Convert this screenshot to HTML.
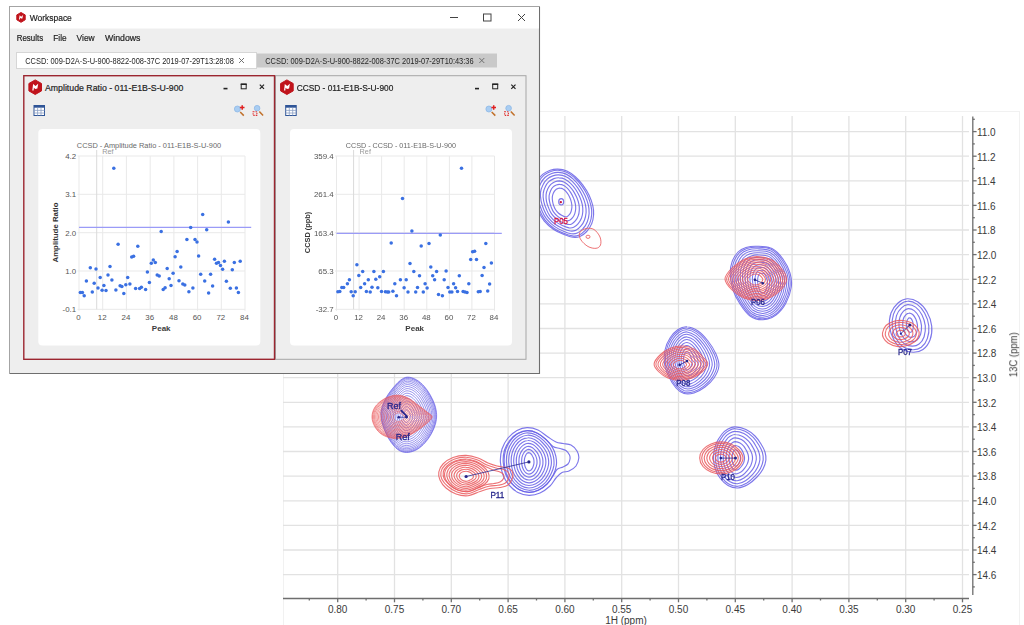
<!DOCTYPE html>
<html><head><meta charset="utf-8"><title>Workspace</title>
<style>
html,body{margin:0;padding:0;background:#fff;}
body{width:1024px;height:625px;overflow:hidden;font-family:"Liberation Sans",sans-serif;}
svg{display:block;position:absolute;left:0;top:0;font-family:"Liberation Sans",sans-serif;filter:blur(0.45px);}
</style></head><body>
<svg width="1024" height="625" viewBox="0 0 1024 625">
<g id="nmr">
<rect x="283.5" y="111.5" width="736" height="520" fill="#fff" stroke="#f1f1f1" stroke-width="1"/>
<g stroke="#e2e2e2" stroke-width="1.3"><line x1="337.7" y1="116" x2="337.7" y2="598" /><line x1="394.5" y1="116" x2="394.5" y2="598" /><line x1="451.3" y1="116" x2="451.3" y2="598" /><line x1="508.1" y1="116" x2="508.1" y2="598" /><line x1="564.9" y1="116" x2="564.9" y2="598" /><line x1="621.7" y1="116" x2="621.7" y2="598" /><line x1="678.5" y1="116" x2="678.5" y2="598" /><line x1="735.3" y1="116" x2="735.3" y2="598" /><line x1="792.1" y1="116" x2="792.1" y2="598" /><line x1="848.9" y1="116" x2="848.9" y2="598" /><line x1="905.7" y1="116" x2="905.7" y2="598" /><line x1="962.5" y1="116" x2="962.5" y2="598" /><line x1="283" y1="131.6" x2="969" y2="131.6" /><line x1="283" y1="156.2" x2="969" y2="156.2" /><line x1="283" y1="180.8" x2="969" y2="180.8" /><line x1="283" y1="205.4" x2="969" y2="205.4" /><line x1="283" y1="230.0" x2="969" y2="230.0" /><line x1="283" y1="254.6" x2="969" y2="254.6" /><line x1="283" y1="279.3" x2="969" y2="279.3" /><line x1="283" y1="303.9" x2="969" y2="303.9" /><line x1="283" y1="328.5" x2="969" y2="328.5" /><line x1="283" y1="353.1" x2="969" y2="353.1" /><line x1="283" y1="377.7" x2="969" y2="377.7" /><line x1="283" y1="402.3" x2="969" y2="402.3" /><line x1="283" y1="426.9" x2="969" y2="426.9" /><line x1="283" y1="451.5" x2="969" y2="451.5" /><line x1="283" y1="476.1" x2="969" y2="476.1" /><line x1="283" y1="500.8" x2="969" y2="500.8" /><line x1="283" y1="525.4" x2="969" y2="525.4" /><line x1="283" y1="550.0" x2="969" y2="550.0" /><line x1="283" y1="574.6" x2="969" y2="574.6" /></g>
<g stroke="#6e6e6e" stroke-width="1.3"><line x1="972.8" y1="116.5" x2="972.8" y2="595" /><line x1="283" y1="598.5" x2="969" y2="598.5" /><line x1="972.8" y1="119.3" x2="974.8" y2="119.3" /><line x1="972.8" y1="131.6" x2="976.6" y2="131.6" /><line x1="972.8" y1="143.9" x2="974.8" y2="143.9" /><line x1="972.8" y1="156.2" x2="976.6" y2="156.2" /><line x1="972.8" y1="168.5" x2="974.8" y2="168.5" /><line x1="972.8" y1="180.8" x2="976.6" y2="180.8" /><line x1="972.8" y1="193.1" x2="974.8" y2="193.1" /><line x1="972.8" y1="205.4" x2="976.6" y2="205.4" /><line x1="972.8" y1="217.7" x2="974.8" y2="217.7" /><line x1="972.8" y1="230.0" x2="976.6" y2="230.0" /><line x1="972.8" y1="242.3" x2="974.8" y2="242.3" /><line x1="972.8" y1="254.6" x2="976.6" y2="254.6" /><line x1="972.8" y1="267.0" x2="974.8" y2="267.0" /><line x1="972.8" y1="279.3" x2="976.6" y2="279.3" /><line x1="972.8" y1="291.6" x2="974.8" y2="291.6" /><line x1="972.8" y1="303.9" x2="976.6" y2="303.9" /><line x1="972.8" y1="316.2" x2="974.8" y2="316.2" /><line x1="972.8" y1="328.5" x2="976.6" y2="328.5" /><line x1="972.8" y1="340.8" x2="974.8" y2="340.8" /><line x1="972.8" y1="353.1" x2="976.6" y2="353.1" /><line x1="972.8" y1="365.4" x2="974.8" y2="365.4" /><line x1="972.8" y1="377.7" x2="976.6" y2="377.7" /><line x1="972.8" y1="390.0" x2="974.8" y2="390.0" /><line x1="972.8" y1="402.3" x2="976.6" y2="402.3" /><line x1="972.8" y1="414.6" x2="974.8" y2="414.6" /><line x1="972.8" y1="426.9" x2="976.6" y2="426.9" /><line x1="972.8" y1="439.2" x2="974.8" y2="439.2" /><line x1="972.8" y1="451.5" x2="976.6" y2="451.5" /><line x1="972.8" y1="463.8" x2="974.8" y2="463.8" /><line x1="972.8" y1="476.1" x2="976.6" y2="476.1" /><line x1="972.8" y1="488.4" x2="974.8" y2="488.4" /><line x1="972.8" y1="500.8" x2="976.6" y2="500.8" /><line x1="972.8" y1="513.1" x2="974.8" y2="513.1" /><line x1="972.8" y1="525.4" x2="976.6" y2="525.4" /><line x1="972.8" y1="537.7" x2="974.8" y2="537.7" /><line x1="972.8" y1="550.0" x2="976.6" y2="550.0" /><line x1="972.8" y1="562.3" x2="974.8" y2="562.3" /><line x1="972.8" y1="574.6" x2="976.6" y2="574.6" /><line x1="972.8" y1="586.9" x2="974.8" y2="586.9" /><line x1="309.3" y1="598.5" x2="309.3" y2="600.5" /><line x1="337.7" y1="598.5" x2="337.7" y2="602.3" /><line x1="366.1" y1="598.5" x2="366.1" y2="600.5" /><line x1="394.5" y1="598.5" x2="394.5" y2="602.3" /><line x1="422.9" y1="598.5" x2="422.9" y2="600.5" /><line x1="451.3" y1="598.5" x2="451.3" y2="602.3" /><line x1="479.7" y1="598.5" x2="479.7" y2="600.5" /><line x1="508.1" y1="598.5" x2="508.1" y2="602.3" /><line x1="536.5" y1="598.5" x2="536.5" y2="600.5" /><line x1="564.9" y1="598.5" x2="564.9" y2="602.3" /><line x1="593.3" y1="598.5" x2="593.3" y2="600.5" /><line x1="621.7" y1="598.5" x2="621.7" y2="602.3" /><line x1="650.1" y1="598.5" x2="650.1" y2="600.5" /><line x1="678.5" y1="598.5" x2="678.5" y2="602.3" /><line x1="706.9" y1="598.5" x2="706.9" y2="600.5" /><line x1="735.3" y1="598.5" x2="735.3" y2="602.3" /><line x1="763.7" y1="598.5" x2="763.7" y2="600.5" /><line x1="792.1" y1="598.5" x2="792.1" y2="602.3" /><line x1="820.5" y1="598.5" x2="820.5" y2="600.5" /><line x1="848.9" y1="598.5" x2="848.9" y2="602.3" /><line x1="877.3" y1="598.5" x2="877.3" y2="600.5" /><line x1="905.7" y1="598.5" x2="905.7" y2="602.3" /><line x1="934.1" y1="598.5" x2="934.1" y2="600.5" /><line x1="962.5" y1="598.5" x2="962.5" y2="602.3" /></g>
<g font-size="10" fill="#3a3a3a"><text x="976.9" y="135.9">11.0</text><text x="976.9" y="160.5">11.2</text><text x="976.9" y="185.1">11.4</text><text x="976.9" y="209.7">11.6</text><text x="976.9" y="234.3">11.8</text><text x="976.9" y="258.9">12.0</text><text x="976.9" y="283.6">12.2</text><text x="976.9" y="308.2">12.4</text><text x="976.9" y="332.8">12.6</text><text x="976.9" y="357.4">12.8</text><text x="976.9" y="382.0">13.0</text><text x="976.9" y="406.6">13.2</text><text x="976.9" y="431.2">13.4</text><text x="976.9" y="455.8">13.6</text><text x="976.9" y="480.4">13.8</text><text x="976.9" y="505.1">14.0</text><text x="976.9" y="529.7">14.2</text><text x="976.9" y="554.3">14.4</text><text x="976.9" y="578.9">14.6</text><text x="337.7" y="613.3" text-anchor="middle">0.80</text><text x="394.5" y="613.3" text-anchor="middle">0.75</text><text x="451.3" y="613.3" text-anchor="middle">0.70</text><text x="508.1" y="613.3" text-anchor="middle">0.65</text><text x="564.9" y="613.3" text-anchor="middle">0.60</text><text x="621.7" y="613.3" text-anchor="middle">0.55</text><text x="678.5" y="613.3" text-anchor="middle">0.50</text><text x="735.3" y="613.3" text-anchor="middle">0.45</text><text x="792.1" y="613.3" text-anchor="middle">0.40</text><text x="848.9" y="613.3" text-anchor="middle">0.35</text><text x="905.7" y="613.3" text-anchor="middle">0.30</text><text x="962.5" y="613.3" text-anchor="middle">0.25</text><text x="626" y="624.3" text-anchor="middle">1H (ppm)</text><text transform="translate(1017.2,377.2) rotate(-90)" textLength="44.8" lengthAdjust="spacingAndGlyphs">13C (ppm)</text></g>
<g fill="none" stroke="#665fe6" stroke-width="1.15" stroke-opacity="0.85"><path d="M560.1,188.1C561.0,188.1 562.1,188.3 563.1,188.9C564.0,189.4 565.0,190.3 565.9,191.3C566.7,192.2 567.6,193.5 568.4,194.8C569.1,196.1 569.8,197.5 570.4,198.9C570.9,200.4 571.4,202.0 571.6,203.4C571.9,204.8 572.0,206.0 571.9,207.3C571.8,208.5 571.6,209.9 571.2,211.1C570.9,212.3 570.3,213.4 569.6,214.3C569.0,215.2 568.1,216.0 567.4,216.4C566.6,216.8 566.0,216.9 565.1,216.7C564.2,216.6 563.2,216.1 562.1,215.5C561.0,215.0 559.7,214.3 558.6,213.3C557.5,212.3 556.4,211.0 555.6,209.8C554.8,208.6 554.3,207.3 553.8,206.0C553.3,204.6 552.8,203.0 552.6,201.5C552.3,200.0 552.2,198.4 552.3,197.0C552.4,195.6 552.9,194.3 553.3,193.2C553.8,192.1 554.4,191.1 555.1,190.3C555.8,189.5 556.7,188.9 557.6,188.6C558.4,188.2 559.2,188.0 560.1,188.1Z"/><path d="M559.7,184.4C560.9,184.4 562.4,184.7 563.8,185.4C565.1,186.1 566.3,187.2 567.5,188.4C568.7,189.7 569.9,191.3 570.9,192.9C571.9,194.5 572.9,196.4 573.6,198.2C574.4,200.0 575.0,202.1 575.3,203.8C575.7,205.6 575.8,207.1 575.7,208.7C575.6,210.3 575.3,212.1 574.8,213.6C574.3,215.1 573.5,216.5 572.6,217.6C571.7,218.7 570.6,219.8 569.6,220.3C568.5,220.8 567.7,220.9 566.5,220.7C565.3,220.5 563.9,219.9 562.4,219.2C560.9,218.5 559.1,217.6 557.7,216.4C556.2,215.2 554.6,213.5 553.5,211.9C552.5,210.4 551.9,208.8 551.2,207.1C550.5,205.3 549.8,203.3 549.5,201.4C549.1,199.5 548.9,197.5 549.1,195.7C549.3,194.0 549.9,192.3 550.5,190.9C551.1,189.5 551.9,188.2 552.9,187.2C553.8,186.2 555.1,185.5 556.3,185.0C557.4,184.6 558.4,184.3 559.7,184.4Z"/><path d="M559.3,180.9C560.9,181.0 562.8,181.3 564.4,182.2C566.0,183.0 567.6,184.3 569.1,185.8C570.6,187.3 572.1,189.2 573.4,191.1C574.6,193.1 575.8,195.3 576.8,197.5C577.7,199.6 578.5,202.1 578.9,204.2C579.3,206.3 579.5,208.1 579.3,210.1C579.2,212.0 578.9,214.1 578.2,215.9C577.6,217.7 576.6,219.4 575.5,220.7C574.4,222.1 573.0,223.3 571.7,223.9C570.4,224.6 569.3,224.7 567.8,224.4C566.3,224.2 564.6,223.5 562.7,222.7C560.9,221.8 558.6,220.7 556.8,219.3C554.9,217.8 553.0,215.8 551.6,213.9C550.3,212.1 549.5,210.2 548.7,208.1C547.8,206.0 547.0,203.6 546.5,201.3C546.1,199.0 545.9,196.6 546.1,194.5C546.3,192.4 547.0,190.4 547.8,188.7C548.6,187.0 549.6,185.5 550.8,184.3C552.0,183.2 553.6,182.3 555.0,181.7C556.5,181.1 557.7,180.9 559.3,180.9Z"/><path d="M558.9,177.8C560.8,177.8 563.1,178.2 565.0,179.2C566.9,180.1 568.8,181.6 570.6,183.4C572.4,185.1 574.2,187.3 575.7,189.5C577.2,191.8 578.6,194.3 579.7,196.8C580.8,199.3 581.8,202.2 582.3,204.6C582.8,207.0 582.9,209.1 582.8,211.4C582.7,213.6 582.2,216.0 581.5,218.0C580.7,220.1 579.5,222.1 578.2,223.6C576.9,225.2 575.2,226.6 573.7,227.3C572.2,228.0 570.9,228.1 569.1,227.9C567.3,227.6 565.2,226.8 563.0,225.8C560.8,224.8 558.1,223.6 555.9,221.9C553.7,220.3 551.4,217.9 549.8,215.8C548.2,213.6 547.3,211.5 546.3,209.1C545.2,206.7 544.2,203.8 543.7,201.2C543.2,198.6 542.9,195.8 543.2,193.4C543.4,191.0 544.3,188.7 545.3,186.7C546.2,184.8 547.4,183.0 548.8,181.7C550.2,180.3 552.2,179.3 553.9,178.6C555.6,178.0 557.1,177.7 558.9,177.8Z"/><path d="M558.6,174.9C560.7,175.0 563.3,175.4 565.6,176.5C567.8,177.5 570.0,179.2 572.0,181.1C574.1,183.1 576.1,185.5 577.9,188.1C579.6,190.6 581.3,193.4 582.5,196.2C583.8,199.0 584.9,202.2 585.5,204.9C586.0,207.6 586.2,210.0 586.1,212.5C585.9,215.0 585.4,217.7 584.5,220.0C583.7,222.3 582.3,224.5 580.8,226.2C579.3,228.0 577.3,229.6 575.6,230.4C573.8,231.1 572.3,231.3 570.3,231.0C568.2,230.7 565.8,229.8 563.3,228.7C560.8,227.6 557.7,226.2 555.1,224.3C552.6,222.5 549.9,219.8 548.1,217.4C546.2,215.0 545.2,212.7 544.0,209.9C542.8,207.2 541.7,204.1 541.1,201.1C540.5,198.2 540.2,195.1 540.5,192.4C540.8,189.7 541.8,187.1 542.9,184.9C543.9,182.7 545.3,180.8 546.9,179.3C548.6,177.7 550.8,176.6 552.8,175.9C554.7,175.2 556.5,174.8 558.6,174.9Z"/><path d="M558.3,172.4C560.7,172.5 563.6,173.0 566.1,174.1C568.6,175.2 571.0,177.1 573.3,179.2C575.6,181.3 577.9,184.0 579.9,186.8C581.8,189.5 583.7,192.6 585.1,195.7C586.5,198.8 587.7,202.2 588.4,205.2C589.0,208.2 589.2,210.8 589.1,213.5C588.9,216.2 588.3,219.2 587.3,221.7C586.4,224.2 584.8,226.6 583.1,228.5C581.5,230.4 579.2,232.1 577.3,233.0C575.3,233.9 573.6,234.0 571.3,233.7C569.1,233.4 566.3,232.4 563.5,231.2C560.7,230.0 557.2,228.5 554.4,226.4C551.6,224.4 548.6,221.5 546.5,218.9C544.4,216.3 543.2,213.7 541.9,210.7C540.6,207.7 539.3,204.3 538.7,201.1C538.0,197.9 537.6,194.5 538.0,191.5C538.3,188.6 539.4,185.8 540.6,183.4C541.8,181.0 543.4,178.8 545.2,177.2C547.1,175.5 549.6,174.3 551.7,173.5C553.9,172.7 555.9,172.3 558.3,172.4Z"/><path d="M558.0,170.3C560.6,170.5 563.8,171.0 566.6,172.2C569.3,173.4 572.0,175.4 574.5,177.7C577.0,179.9 579.5,182.8 581.6,185.7C583.8,188.7 585.8,192.0 587.4,195.3C588.9,198.5 590.2,202.3 590.9,205.5C591.7,208.6 591.9,211.4 591.7,214.3C591.5,217.2 590.9,220.4 589.8,223.1C588.7,225.7 587.0,228.3 585.2,230.4C583.4,232.4 580.9,234.2 578.8,235.2C576.7,236.1 574.8,236.3 572.3,235.9C569.8,235.6 566.8,234.6 563.7,233.3C560.7,232.0 556.9,230.4 553.8,228.2C550.7,226.0 547.4,222.9 545.1,220.1C542.8,217.3 541.5,214.5 540.1,211.3C538.7,208.1 537.3,204.4 536.5,201.0C535.8,197.6 535.4,194.0 535.8,190.8C536.1,187.7 537.4,184.6 538.7,182.1C540.0,179.5 541.7,177.2 543.7,175.4C545.7,173.7 548.5,172.3 550.8,171.5C553.2,170.6 555.4,170.2 558.0,170.3Z"/><path d="M557.8,169.1C560.6,169.2 564.0,169.7 566.9,171.0C569.8,172.3 572.6,174.3 575.3,176.7C578.0,179.0 580.6,182.0 582.9,185.1C585.2,188.2 587.4,191.6 589.0,195.0C590.6,198.4 592.0,202.3 592.8,205.6C593.6,208.9 593.8,211.8 593.6,214.8C593.4,217.9 592.8,221.1 591.6,223.9C590.5,226.7 588.7,229.4 586.7,231.5C584.8,233.6 582.2,235.5 579.9,236.5C577.6,237.5 575.7,237.6 573.0,237.3C570.3,237.0 567.2,235.8 563.9,234.5C560.6,233.2 556.6,231.5 553.3,229.2C550.0,226.9 546.5,223.7 544.1,220.8C541.7,217.9 540.3,215.0 538.8,211.7C537.3,208.4 535.8,204.6 535.0,201.0C534.2,197.4 533.8,193.7 534.2,190.4C534.6,187.1 535.9,184.0 537.3,181.3C538.7,178.6 540.5,176.2 542.6,174.4C544.8,172.6 547.7,171.2 550.2,170.3C552.7,169.4 555.0,169.0 557.8,169.1Z"/><ellipse cx="561.2" cy="201.8" rx="2.5" ry="3.2"/></g><g fill="none" stroke="#ea5a5e" stroke-width="1" stroke-opacity="0.85"><path d="M586.0,228.5C588.4,227.9 591.7,228.1 594.0,229.5C596.3,230.9 598.9,234.4 600.0,237.0C601.1,239.6 601.2,243.1 600.5,245.0C599.8,246.9 598.1,248.1 596.0,248.3C593.9,248.6 590.5,247.9 588.0,246.5C585.5,245.1 582.4,242.2 581.0,240.0C579.6,237.8 578.7,234.9 579.5,233.0C580.3,231.1 583.6,229.1 586.0,228.5Z"/><ellipse cx="588" cy="236.8" rx="2" ry="1.6"/></g><g fill="none" stroke="#665fe6" stroke-width="1.05" stroke-opacity="0.85"><path d="M761.9,273.2C762.6,273.3 763.6,273.3 764.3,273.8C765.0,274.4 765.6,275.6 766.0,276.7C766.5,277.8 766.9,279.2 767.2,280.4C767.4,281.7 767.5,282.9 767.4,284.2C767.3,285.6 766.9,287.3 766.5,288.5C766.1,289.8 765.5,291.0 764.9,291.8C764.3,292.5 763.5,293.0 762.8,293.1C762.1,293.1 761.4,292.8 760.8,292.1C760.1,291.3 759.6,290.0 759.2,288.8C758.7,287.6 758.3,286.4 758.0,285.0C757.8,283.7 757.6,282.0 757.6,280.7C757.6,279.5 757.7,278.5 757.9,277.5C758.1,276.5 758.5,275.4 758.8,274.8C759.2,274.1 759.6,273.8 760.1,273.6C760.6,273.3 761.2,273.2 761.9,273.2Z"/><path d="M761.4,270.3C762.4,270.4 764.0,270.4 765.0,271.1C766.0,271.9 766.9,273.4 767.6,274.8C768.4,276.2 769.0,278.0 769.3,279.6C769.7,281.3 769.8,282.8 769.6,284.5C769.5,286.3 769.0,288.5 768.4,290.1C767.8,291.7 766.9,293.3 766.0,294.3C765.0,295.2 763.9,295.9 762.8,295.9C761.8,296.0 760.6,295.5 759.7,294.6C758.8,293.7 758.0,291.9 757.3,290.4C756.6,288.9 756.0,287.3 755.6,285.6C755.3,283.8 755.0,281.6 755.0,280.0C754.9,278.4 755.1,277.1 755.4,275.8C755.7,274.5 756.3,273.2 756.8,272.3C757.4,271.5 758.0,271.1 758.8,270.8C759.5,270.4 760.4,270.3 761.4,270.3Z"/><path d="M761.0,267.5C762.3,267.6 764.4,267.6 765.7,268.5C767.1,269.4 768.3,271.2 769.2,272.9C770.2,274.7 771.0,276.9 771.5,278.9C771.9,280.9 772.1,282.7 771.9,284.8C771.7,286.9 771.0,289.6 770.2,291.6C769.4,293.6 768.2,295.5 767.0,296.7C765.8,297.9 764.2,298.6 762.9,298.7C761.5,298.8 759.9,298.2 758.7,297.1C757.5,296.0 756.4,293.9 755.5,292.0C754.6,290.2 753.8,288.2 753.3,286.1C752.8,284.0 752.5,281.3 752.4,279.3C752.4,277.3 752.6,275.8 753.0,274.2C753.4,272.7 754.1,271.0 754.9,270.0C755.6,268.9 756.4,268.5 757.4,268.1C758.5,267.7 759.6,267.4 761.0,267.5Z"/><path d="M760.5,264.8C762.2,264.9 764.7,264.9 766.4,265.9C768.2,267.0 769.6,269.1 770.8,271.2C772.0,273.2 773.0,275.8 773.6,278.1C774.1,280.4 774.4,282.6 774.1,285.1C773.8,287.6 773.0,290.7 772.0,293.1C771.0,295.4 769.6,297.6 768.0,299.0C766.5,300.4 764.6,301.3 762.9,301.4C761.2,301.5 759.2,300.8 757.7,299.5C756.2,298.2 754.9,295.7 753.8,293.6C752.6,291.4 751.6,289.1 751.0,286.6C750.3,284.1 749.9,280.9 749.9,278.6C749.8,276.3 750.1,274.5 750.6,272.6C751.1,270.8 752.0,268.9 753.0,267.7C753.9,266.5 754.9,265.9 756.1,265.4C757.4,264.9 758.8,264.7 760.5,264.8Z"/><path d="M760.1,262.1C762.1,262.2 765.1,262.2 767.2,263.5C769.2,264.7 770.9,267.1 772.4,269.4C773.8,271.8 775.0,274.7 775.7,277.4C776.3,280.1 776.6,282.5 776.3,285.4C776.0,288.2 775.0,291.8 773.8,294.5C772.6,297.1 770.9,299.7 769.0,301.3C767.2,302.9 764.9,303.9 762.9,304.0C760.8,304.1 758.6,303.4 756.7,301.9C754.9,300.4 753.4,297.5 752.0,295.0C750.7,292.6 749.5,289.9 748.7,287.1C747.9,284.2 747.5,280.6 747.4,278.0C747.3,275.3 747.6,273.2 748.2,271.1C748.8,269.0 750.0,266.8 751.1,265.4C752.2,264.1 753.4,263.4 754.9,262.9C756.4,262.3 758.0,262.0 760.1,262.1Z"/><path d="M759.6,259.6C762.0,259.7 765.5,259.7 767.8,261.1C770.2,262.4 772.2,265.2 773.9,267.8C775.5,270.4 776.9,273.7 777.7,276.7C778.5,279.7 778.8,282.4 778.4,285.6C778.1,288.8 776.9,292.9 775.5,295.8C774.1,298.8 772.1,301.7 770.0,303.5C767.9,305.3 765.3,306.4 762.9,306.5C760.5,306.6 757.9,305.8 755.8,304.1C753.7,302.4 751.9,299.2 750.3,296.5C748.8,293.7 747.4,290.7 746.5,287.5C745.6,284.3 745.0,280.3 744.9,277.3C744.8,274.4 745.2,272.0 745.9,269.7C746.6,267.3 747.9,264.8 749.2,263.3C750.5,261.8 751.9,261.0 753.6,260.4C755.3,259.8 757.2,259.5 759.6,259.6Z"/><path d="M759.2,257.2C761.9,257.3 765.8,257.3 768.5,258.8C771.2,260.3 773.5,263.3 775.4,266.2C777.2,269.0 778.8,272.7 779.7,276.0C780.6,279.3 780.9,282.4 780.5,285.9C780.1,289.4 778.8,293.8 777.2,297.1C775.6,300.4 773.4,303.6 771.0,305.6C768.6,307.5 765.6,308.8 762.9,308.9C760.2,309.1 757.2,308.1 754.8,306.3C752.5,304.4 750.4,300.9 748.6,297.8C746.9,294.8 745.3,291.5 744.3,288.0C743.3,284.5 742.6,280.0 742.5,276.7C742.4,273.4 742.9,270.9 743.7,268.3C744.5,265.7 745.9,263.0 747.4,261.2C748.8,259.5 750.4,258.8 752.4,258.1C754.3,257.4 756.5,257.1 759.2,257.2Z"/><path d="M758.8,254.9C761.8,255.0 766.2,255.0 769.2,256.6C772.2,258.3 774.7,261.5 776.8,264.7C778.9,267.8 780.7,271.8 781.7,275.4C782.6,279.0 783.0,282.3 782.6,286.1C782.1,289.9 780.6,294.8 778.9,298.4C777.1,301.9 774.6,305.4 771.9,307.6C769.3,309.7 765.9,311.1 762.9,311.2C759.9,311.4 756.6,310.3 753.9,308.3C751.3,306.3 749.0,302.5 747.0,299.1C745.0,295.8 743.3,292.2 742.1,288.4C741.0,284.6 740.3,279.7 740.2,276.2C740.1,272.6 740.6,269.8 741.5,267.0C742.4,264.1 744.0,261.1 745.6,259.3C747.2,257.4 749.0,256.6 751.2,255.9C753.4,255.1 755.8,254.7 758.8,254.9Z"/><path d="M758.4,252.7C761.7,252.8 766.5,252.8 769.8,254.6C773.1,256.3 775.9,259.9 778.2,263.2C780.5,266.6 782.5,270.9 783.5,274.8C784.6,278.6 785.0,282.2 784.5,286.3C784.0,290.5 782.4,295.7 780.5,299.5C778.5,303.4 775.8,307.1 772.9,309.4C769.9,311.7 766.3,313.3 763.0,313.4C759.6,313.5 756.0,312.4 753.0,310.3C750.1,308.1 747.6,303.9 745.4,300.4C743.3,296.8 741.3,292.9 740.1,288.8C738.8,284.7 738.1,279.5 737.9,275.6C737.8,271.8 738.3,268.7 739.3,265.7C740.3,262.7 742.1,259.5 743.9,257.5C745.7,255.5 747.6,254.5 750.0,253.7C752.4,253.0 755.1,252.5 758.4,252.7Z"/><path d="M758.0,250.7C761.6,250.8 766.8,250.8 770.4,252.7C774.0,254.6 777.1,258.3 779.6,261.9C782.0,265.5 784.2,270.1 785.4,274.2C786.5,278.3 787.0,282.1 786.4,286.5C785.9,290.9 784.2,296.5 782.0,300.6C779.9,304.7 776.9,308.7 773.7,311.2C770.6,313.6 766.6,315.2 763.0,315.4C759.4,315.5 755.4,314.4 752.2,312.1C749.0,309.7 746.2,305.3 743.9,301.5C741.5,297.7 739.4,293.6 738.1,289.2C736.7,284.8 735.9,279.2 735.8,275.1C735.6,271.0 736.2,267.8 737.3,264.6C738.3,261.3 740.3,257.9 742.2,255.8C744.2,253.6 746.2,252.6 748.9,251.8C751.5,250.9 754.4,250.5 758.0,250.7Z"/><path d="M757.6,248.8C761.5,249.0 767.1,249.0 771.0,251.0C774.9,252.9 778.2,256.9 780.8,260.7C783.5,264.5 785.9,269.4 787.1,273.7C788.3,278.1 788.8,282.1 788.3,286.7C787.7,291.4 785.8,297.3 783.5,301.6C781.2,305.9 778.0,310.1 774.6,312.7C771.2,315.3 766.8,317.0 763.0,317.2C759.1,317.4 754.8,316.1 751.4,313.7C747.9,311.2 745.0,306.5 742.4,302.5C739.9,298.5 737.6,294.2 736.2,289.5C734.7,284.9 733.8,279.0 733.7,274.7C733.5,270.3 734.1,266.9 735.3,263.5C736.5,260.1 738.6,256.5 740.7,254.2C742.7,252.0 745.0,250.9 747.8,250.0C750.6,249.1 753.8,248.7 757.6,248.8Z"/><path d="M757.3,247.3C761.4,247.4 767.4,247.4 771.6,249.5C775.7,251.6 779.2,255.7 782.0,259.7C784.9,263.7 787.4,268.8 788.7,273.3C790.0,277.8 790.6,282.0 789.9,286.9C789.3,291.7 787.3,297.9 784.9,302.4C782.5,307.0 779.0,311.4 775.4,314.1C771.7,316.8 767.1,318.6 763.0,318.7C758.9,318.9 754.3,317.6 750.6,315.1C747.0,312.5 743.8,307.6 741.1,303.4C738.4,299.2 736.0,294.7 734.4,289.8C732.9,284.9 731.9,278.8 731.8,274.3C731.6,269.7 732.2,266.2 733.5,262.6C734.7,259.1 737.0,255.2 739.2,252.9C741.4,250.6 743.8,249.5 746.8,248.5C749.8,247.6 753.2,247.1 757.3,247.3Z"/><path d="M757.0,246.2C761.3,246.4 767.7,246.4 772.0,248.5C776.3,250.6 780.0,254.9 783.0,259.0C786.0,263.1 788.6,268.3 790.0,273.0C791.4,277.7 792.0,282.0 791.3,287.0C790.6,292.0 788.5,298.3 786.0,303.0C783.5,307.7 779.8,312.2 776.0,315.0C772.2,317.8 767.3,319.6 763.0,319.8C758.7,320.0 753.8,318.6 750.0,316.0C746.2,313.4 742.8,308.3 740.0,304.0C737.2,299.7 734.6,295.0 733.0,290.0C731.4,285.0 730.4,278.7 730.2,274.0C730.0,269.3 730.7,265.7 732.0,262.0C733.3,258.3 735.7,254.4 738.0,252.0C740.3,249.6 742.8,248.5 746.0,247.5C749.2,246.5 752.7,246.0 757.0,246.2Z"/></g><g fill="none" stroke="#ea5a5e" stroke-width="1.05" stroke-opacity="0.85"><path d="M747.4,279.6C747.4,278.7 748.3,277.7 749.2,276.9C750.0,276.0 751.4,275.1 752.4,274.6C753.5,274.1 754.4,273.9 755.4,273.9C756.5,273.9 757.7,274.1 758.7,274.6C759.7,275.1 760.7,276.0 761.4,276.9C762.1,277.7 762.9,278.6 762.8,279.6C762.8,280.6 761.9,281.8 761.2,282.6C760.4,283.4 759.2,284.1 758.2,284.5C757.2,284.9 756.2,285.0 755.2,284.9C754.2,284.9 753.2,284.8 752.2,284.4C751.2,283.9 750.0,283.1 749.2,282.4C748.4,281.6 747.4,280.5 747.4,279.6Z"/><path d="M744.9,279.5C744.9,278.3 746.1,277.0 747.2,275.8C748.3,274.7 750.2,273.5 751.6,272.8C753.0,272.2 754.2,271.9 755.6,271.9C757.0,271.9 758.6,272.2 760.0,272.8C761.3,273.5 762.7,274.7 763.7,275.8C764.6,277.0 765.6,278.2 765.5,279.5C765.5,280.8 764.4,282.5 763.3,283.6C762.3,284.6 760.6,285.5 759.3,286.1C758.0,286.6 756.6,286.7 755.3,286.7C753.9,286.7 752.6,286.5 751.2,285.9C749.9,285.3 748.3,284.3 747.2,283.2C746.2,282.2 744.9,280.8 744.9,279.5Z"/><path d="M742.3,279.5C742.3,277.9 743.9,276.2 745.3,274.8C746.7,273.4 749.0,271.9 750.7,271.1C752.5,270.3 754.0,270.0 755.8,270.0C757.5,270.0 759.6,270.3 761.2,271.1C762.9,271.9 764.7,273.4 765.9,274.8C767.0,276.2 768.3,277.9 768.2,279.5C768.1,281.1 766.7,283.1 765.4,284.5C764.1,285.9 762.1,287.0 760.4,287.6C758.7,288.3 757.0,288.5 755.4,288.4C753.7,288.4 752.0,288.2 750.3,287.4C748.6,286.7 746.6,285.4 745.3,284.1C744.0,282.8 742.3,281.0 742.3,279.5Z"/><path d="M739.9,279.4C739.9,277.6 741.7,275.5 743.4,273.9C745.1,272.2 747.8,270.3 749.9,269.4C752.0,268.4 753.9,268.0 756.0,268.0C758.0,268.0 760.5,268.4 762.5,269.4C764.5,270.3 766.6,272.2 768.0,273.9C769.4,275.5 770.9,277.5 770.8,279.4C770.7,281.3 769.1,283.8 767.5,285.4C766.0,287.1 763.5,288.4 761.5,289.2C759.5,290.0 757.5,290.2 755.5,290.1C753.4,290.1 751.4,289.8 749.4,288.9C747.4,288.1 745.0,286.5 743.4,284.9C741.8,283.3 739.9,281.2 739.9,279.4Z"/><path d="M737.5,279.3C737.5,277.2 739.6,274.9 741.5,272.9C743.5,271.0 746.7,268.8 749.1,267.7C751.6,266.5 753.7,266.2 756.1,266.2C758.6,266.2 761.4,266.5 763.7,267.7C766.0,268.8 768.5,271.0 770.1,272.9C771.7,274.9 773.5,277.1 773.4,279.3C773.3,281.6 771.3,284.4 769.5,286.3C767.7,288.2 764.9,289.8 762.5,290.7C760.2,291.6 757.9,291.9 755.5,291.8C753.2,291.8 750.9,291.4 748.5,290.4C746.2,289.4 743.4,287.6 741.5,285.7C739.7,283.9 737.5,281.5 737.5,279.3Z"/><path d="M735.1,279.3C735.1,276.8 737.5,274.2 739.7,272.0C741.9,269.8 745.6,267.3 748.3,266.0C751.1,264.7 753.5,264.3 756.3,264.3C759.0,264.3 762.2,264.7 764.9,266.0C767.5,267.3 770.3,269.8 772.2,272.0C774.0,274.2 776.0,276.7 775.9,279.3C775.8,281.8 773.6,285.1 771.5,287.2C769.5,289.4 766.2,291.1 763.6,292.2C760.9,293.2 758.3,293.5 755.6,293.4C753.0,293.4 750.3,293.0 747.7,291.8C745.0,290.7 741.8,288.6 739.7,286.6C737.6,284.5 735.1,281.7 735.1,279.3Z"/><path d="M732.8,279.2C732.8,276.5 735.5,273.5 738.0,271.1C740.4,268.6 744.5,265.9 747.6,264.4C750.7,263.0 753.4,262.5 756.5,262.5C759.5,262.5 763.1,263.0 766.1,264.4C769.0,265.9 772.1,268.6 774.2,271.1C776.2,273.5 778.4,276.4 778.3,279.2C778.2,282.0 775.7,285.7 773.4,288.1C771.1,290.5 767.5,292.5 764.6,293.6C761.6,294.8 758.7,295.1 755.7,295.0C752.8,295.0 749.8,294.5 746.9,293.2C743.9,292.0 740.3,289.7 738.0,287.3C735.6,285.0 732.8,281.9 732.8,279.2Z"/><path d="M730.6,279.2C730.6,276.2 733.6,272.9 736.3,270.2C739.0,267.5 743.5,264.5 746.9,262.9C750.2,261.3 753.2,260.8 756.6,260.8C760.0,260.8 763.9,261.3 767.2,262.9C770.4,264.5 773.9,267.5 776.1,270.2C778.3,272.9 780.8,276.0 780.6,279.2C780.5,282.3 777.8,286.3 775.3,288.9C772.8,291.5 768.8,293.7 765.5,295.0C762.3,296.3 759.0,296.6 755.8,296.5C752.5,296.5 749.3,296.0 746.0,294.6C742.8,293.2 738.9,290.7 736.3,288.1C733.7,285.5 730.6,282.1 730.6,279.2Z"/><path d="M728.5,279.1C728.5,275.9 731.8,272.3 734.7,269.4C737.6,266.4 742.5,263.2 746.2,261.5C749.8,259.7 753.1,259.2 756.8,259.2C760.4,259.2 764.7,259.7 768.2,261.5C771.7,263.2 775.5,266.4 777.9,269.4C780.4,272.3 783.0,275.7 782.9,279.1C782.7,282.5 779.8,286.8 777.0,289.7C774.3,292.5 770.0,294.9 766.5,296.3C762.9,297.7 759.4,298.0 755.9,298.0C752.3,297.9 748.8,297.4 745.3,295.9C741.8,294.3 737.5,291.6 734.7,288.8C731.9,286.0 728.5,282.3 728.5,279.1Z"/><path d="M726.6,279.0C726.6,275.6 730.1,271.8 733.2,268.6C736.4,265.5 741.6,261.9 745.5,260.1C749.5,258.3 752.9,257.6 756.9,257.6C760.8,257.6 765.4,258.3 769.2,260.1C773.0,261.9 777.0,265.5 779.6,268.6C782.2,271.8 785.1,275.4 784.9,279.0C784.8,282.7 781.6,287.3 778.7,290.4C775.7,293.5 771.1,296.0 767.3,297.5C763.5,299.0 759.7,299.4 755.9,299.3C752.2,299.2 748.4,298.7 744.6,297.0C740.8,295.4 736.2,292.5 733.2,289.5C730.2,286.5 726.6,282.5 726.6,279.0Z"/><path d="M725.0,279.0C725.0,275.3 728.7,271.3 732.0,268.0C735.3,264.7 740.8,260.9 745.0,259.0C749.2,257.1 752.8,256.4 757.0,256.4C761.2,256.4 766.0,257.1 770.0,259.0C774.0,260.9 778.2,264.7 781.0,268.0C783.8,271.3 786.8,275.2 786.6,279.0C786.4,282.8 783.1,287.8 780.0,291.0C776.9,294.2 772.0,296.9 768.0,298.5C764.0,300.1 760.0,300.5 756.0,300.4C752.0,300.3 748.0,299.7 744.0,298.0C740.0,296.3 735.2,293.2 732.0,290.0C728.8,286.8 725.0,282.7 725.0,279.0Z"/></g><g fill="none" stroke="#665fe6" stroke-width="1.15" stroke-opacity="0.85"><path d="M909.4,317.9C909.9,317.8 910.6,318.1 911.1,318.7C911.6,319.3 912.2,320.3 912.6,321.4C912.9,322.5 913.2,323.9 913.3,325.2C913.4,326.5 913.3,327.9 913.0,329.0C912.8,330.0 912.4,331.0 911.9,331.5C911.5,332.1 910.9,332.3 910.3,332.3C909.8,332.2 909.1,332.0 908.6,331.4C908.0,330.9 907.6,330.0 907.3,329.0C906.9,328.0 906.6,326.7 906.6,325.5C906.5,324.3 906.6,322.8 906.8,321.7C907.0,320.6 907.5,319.6 907.9,319.0C908.3,318.3 908.8,317.9 909.4,317.9Z"/><path d="M908.8,313.1C910.0,313.0 911.5,313.5 912.7,314.5C913.8,315.5 915.0,317.2 915.8,319.0C916.6,320.9 917.3,323.3 917.5,325.4C917.6,327.5 917.4,330.0 916.9,331.8C916.4,333.5 915.4,335.1 914.4,336.1C913.4,337.0 912.1,337.3 910.9,337.3C909.7,337.3 908.2,336.8 907.1,335.8C906.0,334.9 905.0,333.4 904.3,331.8C903.5,330.1 902.9,327.9 902.7,325.9C902.6,323.8 902.7,321.3 903.2,319.5C903.7,317.7 904.7,316.0 905.7,315.0C906.6,313.9 907.7,313.1 908.8,313.1Z"/><path d="M908.3,308.6C910.1,308.5 912.4,309.2 914.2,310.6C915.9,312.0 917.8,314.4 919.0,316.8C920.2,319.3 921.2,322.7 921.5,325.6C921.7,328.5 921.3,331.9 920.6,334.3C919.8,336.8 918.3,339.0 916.8,340.3C915.3,341.5 913.4,342.0 911.5,341.9C909.6,341.9 907.3,341.2 905.6,339.9C904.0,338.7 902.5,336.6 901.4,334.3C900.3,332.0 899.3,329.0 899.0,326.2C898.8,323.4 899.0,320.0 899.8,317.5C900.5,315.0 902.1,312.7 903.5,311.2C904.9,309.8 906.5,308.7 908.3,308.6Z"/><path d="M907.8,304.6C910.2,304.5 913.2,305.4 915.6,307.1C918.0,308.8 920.3,311.7 922.0,314.9C923.6,318.0 924.9,322.1 925.3,325.8C925.6,329.4 925.1,333.6 924.1,336.7C923.1,339.7 921.1,342.5 919.1,344.0C917.1,345.6 914.5,346.2 912.1,346.1C909.6,346.1 906.5,345.2 904.3,343.7C902.0,342.1 900.1,339.5 898.6,336.7C897.2,333.8 895.9,330.0 895.5,326.5C895.2,323.0 895.5,318.8 896.5,315.6C897.5,312.5 899.6,309.7 901.5,307.9C903.3,306.0 905.5,304.7 907.8,304.6Z"/><path d="M907.4,301.2C910.3,301.0 914.0,302.1 916.9,304.1C919.8,306.1 922.7,309.5 924.7,313.2C926.7,316.8 928.4,321.7 928.8,325.9C929.2,330.1 928.6,335.1 927.3,338.6C926.1,342.2 923.7,345.4 921.3,347.3C918.8,349.1 915.6,349.8 912.6,349.7C909.5,349.7 905.8,348.7 903.0,346.8C900.3,345.0 897.9,342.0 896.1,338.6C894.3,335.3 892.7,330.9 892.3,326.8C891.8,322.7 892.3,317.7 893.5,314.1C894.7,310.4 897.2,307.1 899.6,305.0C901.9,302.8 904.5,301.3 907.4,301.2Z"/><path d="M907.0,298.8C910.3,298.6 914.7,299.8 918.0,302.0C921.3,304.2 924.7,308.0 927.0,312.0C929.3,316.0 931.2,321.3 931.7,326.0C932.2,330.7 931.5,336.1 930.0,340.0C928.5,343.9 925.8,347.5 923.0,349.5C920.2,351.5 916.5,352.3 913.0,352.2C909.5,352.1 905.2,351.0 902.0,349.0C898.8,347.0 896.1,343.7 894.0,340.0C891.9,336.3 890.1,331.5 889.6,327.0C889.1,322.5 889.6,317.0 891.0,313.0C892.4,309.0 895.3,305.4 898.0,303.0C900.7,300.6 903.7,299.0 907.0,298.8Z"/></g><g fill="none" stroke="#ea5a5e" stroke-width="1.15" stroke-opacity="0.85"><path d="M896.2,333.5C896.3,333.0 896.6,332.1 897.1,331.6C897.6,331.1 898.6,330.7 899.3,330.5C900.1,330.3 900.6,330.3 901.3,330.4C902.1,330.5 903.0,330.7 903.6,331.0C904.2,331.4 904.8,332.0 905.1,332.5C905.4,333.0 905.5,333.5 905.3,334.0C905.2,334.5 904.9,335.2 904.3,335.6C903.8,336.1 902.8,336.5 902.1,336.7C901.3,336.9 900.6,337.0 899.8,336.9C899.1,336.8 898.2,336.4 897.6,336.0C897.0,335.7 896.7,335.2 896.5,334.8C896.2,334.4 896.1,334.0 896.2,333.5Z"/><path d="M892.4,333.4C892.6,332.4 893.0,330.8 894.0,329.9C894.9,329.0 896.8,328.2 898.1,327.8C899.4,327.5 900.5,327.5 901.8,327.6C903.1,327.8 904.8,328.1 906.0,328.8C907.1,329.4 908.2,330.6 908.7,331.5C909.3,332.5 909.4,333.3 909.2,334.3C909.0,335.3 908.3,336.5 907.3,337.3C906.4,338.1 904.6,338.9 903.2,339.3C901.8,339.7 900.4,339.8 899.0,339.6C897.7,339.3 895.9,338.6 894.9,338.0C893.9,337.3 893.2,336.5 892.8,335.7C892.4,334.9 892.2,334.3 892.4,333.4Z"/><path d="M888.7,333.2C889.0,331.9 889.6,329.6 891.0,328.3C892.4,326.9 895.1,325.8 897.0,325.3C898.8,324.7 900.4,324.7 902.3,325.0C904.1,325.2 906.6,325.7 908.2,326.6C909.9,327.6 911.4,329.3 912.2,330.6C913.0,331.9 913.2,333.2 912.8,334.6C912.5,335.9 911.6,337.7 910.2,338.9C908.8,340.1 906.2,341.2 904.2,341.7C902.3,342.3 900.3,342.4 898.3,342.1C896.3,341.8 893.8,340.8 892.3,339.9C890.8,338.9 890.0,337.7 889.3,336.5C888.7,335.4 888.4,334.6 888.7,333.2Z"/><path d="M885.3,333.1C885.6,331.3 886.5,328.4 888.3,326.7C890.0,325.1 893.5,323.6 895.9,322.9C898.3,322.2 900.3,322.2 902.7,322.5C905.1,322.8 908.2,323.4 910.3,324.6C912.4,325.8 914.4,328.0 915.4,329.7C916.4,331.4 916.7,333.0 916.2,334.8C915.8,336.6 914.7,338.8 912.8,340.3C911.0,341.8 907.8,343.3 905.2,344.0C902.7,344.6 900.1,344.9 897.6,344.5C895.0,344.1 891.9,342.8 889.9,341.6C888.0,340.4 886.9,338.8 886.1,337.3C885.4,335.9 884.9,334.9 885.3,333.1Z"/><path d="M882.5,333.0C882.9,330.9 883.9,327.5 886.0,325.5C888.1,323.5 892.2,321.8 895.0,321.0C897.8,320.2 900.2,320.2 903.0,320.5C905.8,320.8 909.5,321.6 912.0,323.0C914.5,324.4 916.8,327.0 918.0,329.0C919.2,331.0 919.5,332.9 919.0,335.0C918.5,337.1 917.2,339.7 915.0,341.5C912.8,343.3 909.0,345.0 906.0,345.8C903.0,346.6 900.0,346.9 897.0,346.4C894.0,345.9 890.2,344.4 888.0,343.0C885.8,341.6 884.4,339.7 883.5,338.0C882.6,336.3 882.1,335.1 882.5,333.0Z"/></g><g fill="none" stroke="#665fe6" stroke-width="1.05" stroke-opacity="0.85"><path d="M687.0,351.8C687.5,351.9 688.2,352.3 688.8,353.0C689.3,353.6 689.9,354.6 690.4,355.7C690.8,356.7 691.3,358.1 691.6,359.2C691.9,360.3 692.2,361.3 692.1,362.4C692.1,363.5 691.7,364.7 691.3,365.7C690.9,366.6 690.4,367.4 689.9,368.1C689.3,368.8 688.7,369.4 688.1,369.7C687.6,370.0 687.0,370.1 686.5,369.9C686.0,369.6 685.6,369.1 685.2,368.4C684.8,367.6 684.4,366.5 684.1,365.4C683.8,364.3 683.5,363.1 683.4,361.9C683.3,360.7 683.3,359.3 683.5,358.1C683.6,356.9 683.9,355.8 684.3,354.9C684.6,353.9 685.1,353.1 685.6,352.6C686.0,352.1 686.5,351.7 687.0,351.8Z"/><path d="M687.0,348.6C687.9,348.7 688.9,349.3 689.8,350.2C690.7,351.0 691.6,352.4 692.4,353.8C693.1,355.2 694.0,357.0 694.4,358.5C694.9,360.0 695.2,361.4 695.2,362.9C695.1,364.3 694.5,366.0 693.9,367.2C693.3,368.5 692.5,369.6 691.6,370.5C690.8,371.4 689.7,372.3 688.8,372.7C687.9,373.1 687.0,373.2 686.2,372.9C685.5,372.6 684.8,371.9 684.2,370.9C683.5,369.9 682.9,368.3 682.4,366.9C681.9,365.4 681.4,363.8 681.2,362.2C681.1,360.5 681.1,358.6 681.4,357.1C681.6,355.5 682.1,353.9 682.7,352.7C683.2,351.5 684.0,350.3 684.7,349.6C685.4,348.9 686.1,348.5 687.0,348.6Z"/><path d="M687.0,345.5C688.2,345.6 689.6,346.4 690.9,347.4C692.1,348.5 693.3,350.2 694.4,352.0C695.4,353.7 696.5,356.0 697.2,357.9C697.8,359.8 698.3,361.5 698.2,363.3C698.1,365.1 697.3,367.2 696.5,368.8C695.6,370.4 694.5,371.7 693.3,372.9C692.1,374.0 690.7,375.1 689.5,375.6C688.2,376.1 687.0,376.2 685.9,375.8C684.9,375.5 684.0,374.6 683.1,373.3C682.3,372.1 681.4,370.1 680.7,368.3C680.0,366.5 679.4,364.5 679.1,362.4C678.9,360.4 679.0,358.0 679.3,356.1C679.6,354.1 680.3,352.2 681.0,350.6C681.8,349.1 682.9,347.6 683.8,346.8C684.8,345.9 685.8,345.4 687.0,345.5Z"/><path d="M687.0,342.5C688.5,342.6 690.3,343.5 691.9,344.8C693.4,346.1 695.0,348.2 696.3,350.2C697.6,352.3 699.0,355.0 699.8,357.3C700.6,359.5 701.3,361.6 701.1,363.8C701.0,365.9 700.0,368.3 699.0,370.2C697.9,372.1 696.4,373.8 695.0,375.1C693.5,376.5 691.6,377.8 690.1,378.4C688.5,378.9 687.0,379.1 685.7,378.7C684.3,378.2 683.2,377.1 682.1,375.6C681.0,374.2 679.9,371.9 679.0,369.7C678.2,367.5 677.3,365.1 677.0,362.7C676.7,360.2 676.9,357.4 677.3,355.1C677.7,352.8 678.5,350.5 679.5,348.6C680.4,346.8 681.8,345.0 683.0,344.0C684.3,343.0 685.5,342.4 687.0,342.5Z"/><path d="M687.0,339.6C688.8,339.8 691.0,340.8 692.9,342.3C694.7,343.8 696.6,346.2 698.2,348.6C699.8,350.9 701.5,354.1 702.5,356.7C703.4,359.3 704.2,361.7 704.0,364.2C703.8,366.7 702.6,369.5 701.4,371.6C700.2,373.8 698.4,375.7 696.6,377.3C694.8,378.8 692.6,380.3 690.7,381.0C688.9,381.7 687.0,381.9 685.4,381.4C683.8,380.9 682.5,379.6 681.1,377.9C679.8,376.2 678.4,373.5 677.4,371.0C676.4,368.5 675.4,365.7 675.0,362.9C674.6,360.1 674.8,356.9 675.3,354.2C675.8,351.5 676.8,348.8 677.9,346.7C679.1,344.5 680.7,342.5 682.2,341.4C683.7,340.2 685.2,339.5 687.0,339.6Z"/><path d="M687.0,336.9C689.1,337.1 691.7,338.2 693.8,339.9C696.0,341.6 698.2,344.3 700.1,347.0C701.9,349.7 703.9,353.2 705.0,356.1C706.2,359.0 707.0,361.7 706.8,364.5C706.6,367.4 705.2,370.5 703.8,373.0C702.3,375.5 700.3,377.6 698.2,379.3C696.1,381.1 693.5,382.8 691.4,383.5C689.2,384.3 687.0,384.6 685.1,384.0C683.3,383.4 681.7,382.0 680.2,380.0C678.6,378.1 677.0,375.1 675.8,372.3C674.6,369.5 673.4,366.3 673.0,363.1C672.6,360.0 672.8,356.3 673.3,353.3C673.9,350.2 675.1,347.3 676.4,344.8C677.8,342.4 679.6,340.2 681.4,338.9C683.2,337.5 684.9,336.7 687.0,336.9Z"/><path d="M687.0,334.3C689.4,334.5 692.3,335.8 694.8,337.7C697.3,339.5 699.7,342.5 701.9,345.5C704.0,348.4 706.2,352.3 707.5,355.6C708.8,358.8 709.8,361.8 709.6,364.9C709.3,368.0 707.7,371.5 706.1,374.3C704.5,377.0 702.1,379.3 699.7,381.3C697.4,383.2 694.4,385.1 692.0,385.9C689.5,386.8 687.0,387.0 684.9,386.4C682.8,385.7 681.0,384.2 679.2,382.0C677.5,379.9 675.6,376.6 674.3,373.5C672.9,370.4 671.6,366.9 671.1,363.4C670.6,359.9 670.8,355.8 671.4,352.5C672.1,349.1 673.4,345.8 675.0,343.1C676.5,340.5 678.6,338.0 680.6,336.5C682.6,335.0 684.6,334.1 687.0,334.3Z"/><path d="M687.0,331.9C689.6,332.2 692.9,333.6 695.7,335.6C698.4,337.6 701.2,340.8 703.6,344.1C706.0,347.3 708.5,351.6 709.9,355.1C711.3,358.6 712.5,361.9 712.2,365.3C711.9,368.6 710.1,372.5 708.3,375.4C706.5,378.4 703.8,380.9 701.2,383.0C698.6,385.2 695.3,387.2 692.5,388.1C689.8,389.1 687.0,389.3 684.6,388.6C682.3,387.9 680.3,386.2 678.3,383.9C676.3,381.6 674.3,378.0 672.8,374.6C671.3,371.2 669.8,367.4 669.2,363.6C668.7,359.7 668.9,355.4 669.6,351.7C670.4,348.0 671.9,344.4 673.6,341.5C675.3,338.6 677.7,335.9 679.9,334.3C682.1,332.7 684.4,331.7 687.0,331.9Z"/><path d="M687.0,329.8C689.9,330.0 693.5,331.5 696.5,333.7C699.6,335.9 702.6,339.3 705.2,342.8C707.8,346.3 710.6,350.8 712.2,354.6C713.7,358.4 715.0,361.9 714.7,365.6C714.4,369.2 712.4,373.3 710.4,376.5C708.4,379.7 705.5,382.4 702.6,384.7C699.7,386.9 696.1,389.1 693.1,390.1C690.0,391.1 687.0,391.4 684.4,390.7C681.8,389.9 679.6,388.1 677.5,385.6C675.3,383.1 673.0,379.2 671.4,375.6C669.7,371.9 668.0,367.8 667.5,363.7C666.9,359.6 667.1,354.9 667.9,351.0C668.7,347.1 670.4,343.2 672.2,340.1C674.1,337.0 676.7,334.1 679.2,332.3C681.6,330.6 684.1,329.6 687.0,329.8Z"/><path d="M687.0,328.0C690.1,328.2 694.1,329.8 697.3,332.1C700.6,334.4 703.9,338.0 706.8,341.7C709.6,345.4 712.6,350.2 714.3,354.3C716.0,358.3 717.3,362.0 717.0,365.8C716.7,369.7 714.6,374.0 712.4,377.4C710.2,380.8 707.1,383.6 703.9,386.1C700.8,388.5 696.9,390.8 693.6,391.8C690.3,392.9 687.0,393.2 684.2,392.4C681.4,391.6 679.0,389.7 676.7,387.0C674.3,384.4 671.9,380.3 670.1,376.4C668.3,372.6 666.5,368.2 665.8,363.9C665.2,359.6 665.4,354.6 666.3,350.4C667.2,346.2 669.0,342.1 671.0,338.8C673.0,335.6 675.9,332.5 678.5,330.7C681.2,328.8 683.9,327.7 687.0,328.0Z"/><path d="M687.0,326.7C690.3,326.9 694.5,328.6 698.0,331.0C701.5,333.4 705.0,337.2 708.0,341.0C711.0,344.8 714.2,349.8 716.0,354.0C717.8,358.2 719.2,362.0 718.9,366.0C718.6,370.0 716.3,374.5 714.0,378.0C711.7,381.5 708.3,384.5 705.0,387.0C701.7,389.5 697.5,391.9 694.0,393.0C690.5,394.1 687.0,394.4 684.0,393.6C681.0,392.8 678.5,390.8 676.0,388.0C673.5,385.2 670.9,381.0 669.0,377.0C667.1,373.0 665.2,368.5 664.5,364.0C663.8,359.5 664.1,354.3 665.0,350.0C665.9,345.7 667.8,341.4 670.0,338.0C672.2,334.6 675.2,331.4 678.0,329.5C680.8,327.6 683.7,326.4 687.0,326.7Z"/></g><g fill="none" stroke="#ea5a5e" stroke-width="1.05" stroke-opacity="0.85"><path d="M673.2,364.7C673.3,364.0 674.0,363.1 674.7,362.4C675.4,361.8 676.5,361.0 677.5,360.7C678.4,360.3 679.5,360.2 680.5,360.2C681.4,360.2 682.4,360.5 683.2,360.9C684.0,361.4 684.9,362.3 685.5,362.9C686.0,363.5 686.7,364.0 686.6,364.7C686.6,365.3 685.9,366.1 685.2,366.7C684.5,367.3 683.6,367.8 682.7,368.2C681.8,368.5 680.7,368.8 679.7,368.8C678.7,368.8 677.6,368.5 676.7,368.2C675.8,367.8 675.0,367.3 674.5,366.7C673.9,366.1 673.2,365.4 673.2,364.7Z"/><path d="M670.5,364.6C670.6,363.6 671.6,362.3 672.6,361.4C673.6,360.4 675.2,359.4 676.5,358.9C677.9,358.3 679.4,358.1 680.8,358.2C682.2,358.3 683.5,358.6 684.7,359.2C685.9,359.9 687.1,361.2 687.9,362.1C688.8,363.0 689.7,363.7 689.7,364.6C689.6,365.5 688.5,366.6 687.6,367.4C686.7,368.3 685.3,369.1 684.0,369.6C682.7,370.1 681.2,370.4 679.7,370.4C678.3,370.4 676.7,370.1 675.5,369.6C674.2,369.1 673.1,368.3 672.3,367.4C671.4,366.6 670.4,365.6 670.5,364.6Z"/><path d="M667.8,364.5C667.9,363.2 669.3,361.6 670.6,360.3C671.9,359.1 673.9,357.8 675.6,357.1C677.4,356.4 679.4,356.2 681.2,356.2C682.9,356.3 684.7,356.7 686.2,357.6C687.8,358.4 689.3,360.1 690.4,361.3C691.5,362.4 692.7,363.3 692.6,364.5C692.5,365.6 691.1,367.1 689.9,368.2C688.7,369.3 687.0,370.3 685.3,370.9C683.6,371.6 681.6,372.0 679.8,372.0C677.9,372.0 675.9,371.6 674.2,370.9C672.6,370.3 671.2,369.3 670.1,368.2C669.0,367.1 667.8,365.8 667.8,364.5Z"/><path d="M665.2,364.4C665.3,362.8 667.0,360.8 668.6,359.3C670.1,357.8 672.6,356.2 674.8,355.4C676.9,354.5 679.4,354.2 681.5,354.3C683.7,354.4 685.8,354.9 687.7,355.9C689.6,357.0 691.5,359.0 692.8,360.5C694.1,361.9 695.6,363.0 695.5,364.4C695.4,365.8 693.7,367.6 692.2,368.9C690.7,370.2 688.6,371.5 686.6,372.3C684.5,373.1 682.1,373.6 679.8,373.6C677.6,373.6 675.0,373.1 673.1,372.3C671.1,371.5 669.3,370.2 668.0,368.9C666.7,367.6 665.1,366.0 665.2,364.4Z"/><path d="M662.7,364.3C662.8,362.4 664.8,360.1 666.6,358.3C668.5,356.6 671.4,354.7 673.9,353.7C676.4,352.7 679.3,352.3 681.9,352.5C684.4,352.6 686.9,353.2 689.1,354.4C691.3,355.6 693.6,358.0 695.1,359.7C696.6,361.3 698.4,362.6 698.3,364.3C698.2,366.0 696.2,368.1 694.4,369.6C692.7,371.1 690.2,372.6 687.8,373.6C685.4,374.5 682.5,375.2 679.9,375.2C677.2,375.2 674.2,374.5 671.9,373.6C669.6,372.6 667.5,371.1 666.0,369.6C664.4,368.1 662.6,366.2 662.7,364.3Z"/><path d="M660.3,364.2C660.4,362.1 662.6,359.4 664.8,357.4C666.9,355.4 670.2,353.2 673.1,352.1C676.0,351.0 679.3,350.5 682.2,350.7C685.1,350.8 688.0,351.5 690.5,352.9C693.0,354.2 695.6,357.0 697.3,358.9C699.1,360.8 701.1,362.3 701.0,364.2C700.8,366.1 698.6,368.5 696.6,370.3C694.6,372.0 691.8,373.8 689.0,374.8C686.2,375.9 682.9,376.6 679.9,376.6C676.9,376.6 673.5,375.9 670.8,374.8C668.2,373.8 665.8,372.0 664.0,370.3C662.2,368.5 660.2,366.4 660.3,364.2Z"/><path d="M658.0,364.1C658.1,361.7 660.6,358.8 663.0,356.5C665.4,354.2 669.1,351.8 672.3,350.6C675.6,349.3 679.2,348.8 682.5,349.0C685.7,349.1 689.0,349.9 691.8,351.4C694.6,353.0 697.5,356.1 699.4,358.2C701.4,360.3 703.6,362.0 703.5,364.1C703.4,366.3 700.8,368.9 698.6,370.9C696.4,372.9 693.2,374.8 690.1,376.0C687.0,377.2 683.3,378.0 679.9,378.0C676.5,378.0 672.7,377.2 669.8,376.0C666.8,374.8 664.1,372.9 662.1,370.9C660.2,368.9 657.8,366.5 658.0,364.1Z"/><path d="M655.9,364.1C656.0,361.4 658.7,358.2 661.3,355.7C664.0,353.2 668.0,350.5 671.6,349.2C675.2,347.8 679.2,347.2 682.8,347.4C686.3,347.5 689.9,348.4 693.0,350.1C696.1,351.8 699.3,355.2 701.4,357.5C703.5,359.9 706.0,361.7 705.9,364.1C705.7,366.4 702.9,369.3 700.5,371.5C698.0,373.7 694.6,375.8 691.1,377.1C687.7,378.4 683.7,379.3 680.0,379.3C676.2,379.3 672.1,378.4 668.8,377.1C665.5,375.8 662.6,373.7 660.4,371.5C658.3,369.3 655.7,366.7 655.9,364.1Z"/><path d="M654.1,364.0C654.3,361.2 657.2,357.7 660.0,355.0C662.8,352.3 667.2,349.5 671.0,348.0C674.8,346.5 679.2,345.9 683.0,346.1C686.8,346.3 690.7,347.2 694.0,349.0C697.3,350.8 700.7,354.5 703.0,357.0C705.3,359.5 708.0,361.5 707.8,364.0C707.6,366.5 704.6,369.7 702.0,372.0C699.4,374.3 695.7,376.6 692.0,378.0C688.3,379.4 684.0,380.4 680.0,380.4C676.0,380.4 671.5,379.4 668.0,378.0C664.5,376.6 661.3,374.3 659.0,372.0C656.7,369.7 653.9,366.8 654.1,364.0Z"/></g><g fill="none" stroke="#665fe6" stroke-width="0.85" stroke-opacity="0.80"><path d="M406.3,409.6C406.7,409.6 407.1,409.8 407.5,410.1C407.9,410.3 408.3,410.8 408.6,411.2C409.0,411.7 409.3,412.2 409.5,412.7C409.7,413.2 410.0,413.8 410.1,414.4C410.3,414.9 410.4,415.5 410.4,416.0C410.4,416.6 410.3,417.1 410.2,417.7C410.1,418.2 409.9,418.8 409.6,419.3C409.4,419.8 409.1,420.3 408.8,420.8C408.4,421.2 408.0,421.7 407.7,421.9C407.3,422.2 406.8,422.4 406.4,422.4C406.0,422.5 405.6,422.4 405.3,422.2C405.0,422.1 404.7,421.7 404.4,421.4C404.2,421.1 403.9,420.6 403.7,420.2C403.5,419.7 403.3,419.2 403.1,418.7C402.9,418.2 402.7,417.6 402.7,417.0C402.6,416.5 402.5,415.9 402.6,415.4C402.7,414.9 402.8,414.4 403.0,413.9C403.1,413.4 403.3,413.0 403.6,412.6C403.8,412.1 404.2,411.6 404.4,411.2C404.7,410.8 405.0,410.4 405.3,410.2C405.6,409.9 405.9,409.7 406.3,409.6Z"/><path d="M406.4,406.6C407.0,406.6 407.7,406.9 408.3,407.3C408.9,407.7 409.5,408.3 410.0,408.9C410.6,409.6 411.0,410.3 411.4,411.1C411.7,411.9 412.1,412.7 412.3,413.5C412.5,414.3 412.7,415.1 412.7,415.9C412.7,416.7 412.6,417.5 412.5,418.3C412.3,419.1 411.9,419.9 411.6,420.6C411.2,421.4 410.7,422.2 410.2,422.8C409.7,423.4 409.1,424.1 408.5,424.5C407.9,424.9 407.2,425.1 406.6,425.2C406.0,425.3 405.4,425.2 404.9,424.9C404.4,424.7 404.0,424.2 403.5,423.7C403.1,423.2 402.7,422.6 402.4,421.9C402.0,421.3 401.7,420.5 401.4,419.8C401.2,419.0 400.9,418.2 400.8,417.4C400.6,416.6 400.6,415.8 400.7,415.0C400.8,414.3 401.0,413.5 401.3,412.8C401.5,412.2 401.8,411.5 402.2,410.9C402.6,410.2 403.1,409.5 403.5,408.9C404.0,408.3 404.4,407.8 404.9,407.4C405.4,407.0 405.8,406.7 406.4,406.6Z"/><path d="M406.5,403.7C407.3,403.7 408.3,404.1 409.1,404.6C409.9,405.1 410.7,405.9 411.4,406.7C412.1,407.5 412.7,408.5 413.2,409.5C413.7,410.5 414.2,411.6 414.5,412.6C414.8,413.7 415.0,414.7 415.0,415.8C415.0,416.8 414.9,417.8 414.6,418.9C414.4,419.9 413.9,421.0 413.4,421.9C412.9,422.9 412.3,423.9 411.6,424.8C411.0,425.6 410.1,426.4 409.3,426.9C408.5,427.4 407.6,427.8 406.8,427.9C406.0,428.0 405.2,427.8 404.5,427.5C403.8,427.2 403.2,426.6 402.7,425.9C402.1,425.3 401.6,424.5 401.1,423.6C400.6,422.8 400.2,421.8 399.8,420.8C399.5,419.8 399.1,418.7 398.9,417.7C398.8,416.7 398.7,415.6 398.8,414.6C398.9,413.6 399.3,412.7 399.6,411.8C399.9,410.9 400.4,410.1 400.9,409.2C401.4,408.4 402.1,407.5 402.7,406.7C403.3,406.0 403.8,405.2 404.5,404.7C405.1,404.2 405.7,403.8 406.5,403.7Z"/><path d="M406.6,400.9C407.6,400.9 408.8,401.3 409.8,401.9C410.8,402.6 411.9,403.6 412.7,404.6C413.6,405.6 414.3,406.8 414.9,408.0C415.6,409.2 416.2,410.6 416.5,411.8C416.9,413.1 417.2,414.4 417.2,415.6C417.2,416.9 417.1,418.2 416.8,419.4C416.4,420.7 415.9,422.0 415.3,423.2C414.6,424.4 413.9,425.6 413.0,426.7C412.2,427.7 411.1,428.6 410.1,429.3C409.1,429.9 407.9,430.3 406.9,430.5C405.9,430.6 404.9,430.4 404.1,430.0C403.2,429.6 402.5,428.8 401.8,428.1C401.1,427.3 400.5,426.3 399.9,425.3C399.3,424.2 398.7,423.0 398.3,421.8C397.8,420.6 397.4,419.3 397.2,418.0C396.9,416.8 396.9,415.5 397.0,414.3C397.1,413.1 397.6,411.9 398.0,410.8C398.4,409.7 399.0,408.7 399.6,407.7C400.2,406.6 401.1,405.5 401.8,404.6C402.6,403.7 403.3,402.8 404.1,402.1C404.9,401.5 405.7,401.0 406.6,400.9Z"/><path d="M406.7,398.2C407.8,398.2 409.3,398.7 410.5,399.4C411.7,400.1 413.0,401.3 414.0,402.5C415.0,403.7 415.9,405.2 416.6,406.6C417.4,408.0 418.1,409.6 418.5,411.0C419.0,412.5 419.3,414.0 419.3,415.5C419.4,417.0 419.2,418.5 418.8,420.0C418.4,421.5 417.8,423.0 417.0,424.4C416.3,425.8 415.4,427.3 414.3,428.5C413.3,429.7 412.1,430.8 410.9,431.6C409.7,432.3 408.3,432.8 407.1,432.9C405.9,433.1 404.7,432.9 403.7,432.4C402.7,431.9 401.8,431.0 401.0,430.1C400.2,429.2 399.4,428.1 398.7,426.9C398.0,425.6 397.3,424.2 396.8,422.8C396.2,421.4 395.7,419.8 395.4,418.3C395.2,416.8 395.1,415.3 395.3,413.9C395.4,412.5 395.9,411.1 396.4,409.8C396.9,408.6 397.6,407.4 398.3,406.2C399.1,404.9 400.1,403.6 401.0,402.5C401.9,401.4 402.7,400.4 403.7,399.7C404.6,398.9 405.6,398.3 406.7,398.2Z"/><path d="M406.8,395.6C408.1,395.6 409.8,396.2 411.2,397.0C412.6,397.8 414.0,399.2 415.2,400.5C416.4,401.9 417.4,403.6 418.3,405.2C419.1,406.8 419.9,408.6 420.5,410.3C421.0,412.0 421.3,413.7 421.4,415.4C421.4,417.1 421.2,418.8 420.8,420.5C420.3,422.2 419.6,424.0 418.7,425.6C417.9,427.2 416.8,428.8 415.6,430.2C414.4,431.6 413.0,432.9 411.7,433.7C410.3,434.6 408.6,435.2 407.3,435.3C405.9,435.5 404.5,435.2 403.3,434.7C402.1,434.2 401.2,433.2 400.2,432.1C399.2,431.1 398.4,429.8 397.5,428.4C396.7,427.0 396.0,425.4 395.3,423.7C394.7,422.1 394.1,420.3 393.8,418.6C393.5,416.9 393.4,415.2 393.6,413.6C393.8,411.9 394.3,410.4 394.9,408.9C395.5,407.4 396.3,406.1 397.1,404.7C398.0,403.3 399.2,401.8 400.2,400.5C401.2,399.3 402.2,398.1 403.3,397.3C404.4,396.5 405.5,395.7 406.8,395.6Z"/><path d="M406.9,393.2C408.4,393.1 410.3,393.8 411.9,394.7C413.4,395.6 415.1,397.1 416.4,398.7C417.7,400.2 418.8,402.0 419.8,403.9C420.8,405.7 421.7,407.7 422.3,409.6C422.9,411.5 423.3,413.4 423.3,415.3C423.4,417.2 423.2,419.1 422.7,421.0C422.2,422.9 421.3,424.9 420.3,426.7C419.4,428.5 418.2,430.3 416.8,431.9C415.5,433.4 413.9,434.9 412.4,435.8C410.8,436.8 409.0,437.4 407.4,437.6C405.8,437.8 404.3,437.5 402.9,436.9C401.6,436.3 400.5,435.2 399.4,434.0C398.4,432.8 397.4,431.4 396.4,429.8C395.5,428.2 394.7,426.4 394.0,424.6C393.2,422.8 392.5,420.8 392.2,418.9C391.9,417.0 391.8,415.0 392.0,413.2C392.2,411.4 392.8,409.7 393.5,408.0C394.2,406.4 395.0,404.9 396.0,403.3C397.0,401.8 398.3,400.0 399.4,398.7C400.6,397.3 401.7,395.9 402.9,395.0C404.2,394.1 405.4,393.2 406.9,393.2Z"/><path d="M407.0,390.8C408.6,390.8 410.7,391.5 412.5,392.5C414.2,393.5 416.0,395.2 417.5,396.9C419.0,398.5 420.2,400.6 421.3,402.6C422.4,404.6 423.4,406.8 424.1,408.9C424.7,411.0 425.1,413.1 425.2,415.2C425.3,417.3 425.0,419.4 424.5,421.5C423.9,423.6 423.0,425.7 421.9,427.7C420.8,429.7 419.5,431.8 418.0,433.5C416.5,435.1 414.8,436.8 413.1,437.8C411.3,438.9 409.3,439.6 407.5,439.8C405.8,440.0 404.1,439.6 402.6,439.0C401.1,438.3 399.9,437.1 398.7,435.8C397.5,434.5 396.4,432.9 395.4,431.2C394.4,429.5 393.4,427.5 392.6,425.5C391.8,423.5 391.1,421.2 390.7,419.2C390.3,417.1 390.2,414.9 390.4,412.9C390.7,410.9 391.4,409.0 392.1,407.2C392.9,405.4 393.8,403.7 394.9,402.0C396.0,400.3 397.4,398.4 398.7,396.9C400.0,395.3 401.2,393.8 402.6,392.8C404.0,391.8 405.3,390.9 407.0,390.8Z"/><path d="M407.1,388.6C408.9,388.5 411.2,389.3 413.1,390.4C415.0,391.5 417.0,393.3 418.6,395.2C420.2,397.0 421.6,399.2 422.8,401.4C424.0,403.6 425.1,406.0 425.8,408.2C426.5,410.5 426.9,412.8 427.0,415.1C427.1,417.4 426.8,419.7 426.2,422.0C425.6,424.2 424.5,426.6 423.4,428.7C422.2,430.9 420.7,433.1 419.1,435.0C417.5,436.8 415.6,438.5 413.7,439.7C411.8,440.8 409.6,441.6 407.7,441.8C405.8,442.0 403.9,441.7 402.3,441.0C400.7,440.2 399.3,438.9 398.0,437.5C396.7,436.1 395.5,434.4 394.4,432.5C393.3,430.6 392.2,428.4 391.4,426.3C390.5,424.1 389.6,421.7 389.2,419.4C388.8,417.1 388.7,414.8 389.0,412.6C389.2,410.5 390.0,408.4 390.8,406.4C391.6,404.4 392.6,402.6 393.8,400.8C395.0,398.9 396.6,396.8 398.0,395.2C399.4,393.5 400.8,391.9 402.3,390.8C403.8,389.7 405.3,388.7 407.1,388.6Z"/><path d="M407.1,386.5C409.1,386.5 411.6,387.3 413.7,388.5C415.7,389.7 417.8,391.6 419.6,393.6C421.3,395.5 422.8,397.9 424.1,400.3C425.4,402.6 426.6,405.2 427.4,407.6C428.1,410.1 428.6,412.6 428.7,415.0C428.8,417.5 428.5,419.9 427.8,422.4C427.1,424.8 426.0,427.3 424.8,429.7C423.5,432.0 421.9,434.4 420.2,436.4C418.4,438.3 416.4,440.2 414.3,441.4C412.3,442.7 409.9,443.5 407.8,443.7C405.7,444.0 403.7,443.6 402.0,442.8C400.2,442.0 398.8,440.6 397.4,439.1C395.9,437.6 394.6,435.7 393.4,433.7C392.2,431.7 391.1,429.4 390.2,427.0C389.3,424.7 388.3,422.1 387.9,419.6C387.4,417.2 387.3,414.7 387.6,412.3C387.9,410.0 388.7,407.8 389.6,405.7C390.5,403.5 391.5,401.6 392.8,399.6C394.1,397.6 395.8,395.4 397.4,393.6C398.9,391.8 400.3,390.0 402.0,388.9C403.6,387.7 405.2,386.6 407.1,386.5Z"/><path d="M407.2,384.6C409.3,384.5 412.0,385.4 414.2,386.7C416.4,387.9 418.7,390.0 420.5,392.1C422.4,394.2 424.0,396.7 425.4,399.2C426.7,401.7 428.0,404.5 428.8,407.1C429.7,409.7 430.2,412.3 430.3,414.9C430.4,417.5 430.0,420.2 429.3,422.8C428.6,425.4 427.4,428.1 426.1,430.5C424.7,433.0 423.0,435.6 421.2,437.7C419.3,439.8 417.1,441.8 414.9,443.1C412.7,444.4 410.1,445.3 407.9,445.5C405.7,445.8 403.5,445.4 401.7,444.5C399.8,443.7 398.3,442.2 396.7,440.6C395.2,439.0 393.8,437.0 392.5,434.8C391.3,432.7 390.1,430.2 389.1,427.7C388.1,425.2 387.1,422.5 386.6,419.9C386.1,417.3 386.0,414.6 386.3,412.1C386.6,409.6 387.5,407.2 388.4,405.0C389.4,402.7 390.5,400.6 391.9,398.5C393.3,396.3 395.1,394.0 396.7,392.1C398.4,390.2 399.9,388.3 401.7,387.1C403.4,385.8 405.1,384.6 407.2,384.6Z"/><path d="M407.3,382.8C409.5,382.7 412.3,383.7 414.7,385.0C417.0,386.3 419.4,388.5 421.4,390.7C423.4,392.9 425.1,395.6 426.5,398.3C428.0,400.9 429.4,403.8 430.2,406.6C431.1,409.3 431.7,412.1 431.7,414.8C431.8,417.6 431.5,420.4 430.7,423.1C430.0,425.9 428.7,428.7 427.3,431.3C425.8,434.0 424.1,436.7 422.1,438.9C420.1,441.1 417.8,443.2 415.4,444.6C413.1,446.0 410.4,446.9 408.0,447.2C405.7,447.4 403.4,447.0 401.4,446.1C399.4,445.3 397.8,443.7 396.2,442.0C394.6,440.2 393.1,438.1 391.7,435.9C390.4,433.6 389.1,431.0 388.0,428.4C387.0,425.7 385.9,422.8 385.4,420.1C384.9,417.3 384.8,414.5 385.1,411.9C385.4,409.2 386.4,406.7 387.4,404.3C388.3,401.9 389.6,399.8 391.1,397.5C392.5,395.2 394.5,392.7 396.2,390.7C397.9,388.7 399.5,386.8 401.4,385.4C403.2,384.1 405.1,382.9 407.3,382.8Z"/><path d="M407.3,381.2C409.7,381.1 412.6,382.1 415.1,383.5C417.6,384.9 420.1,387.2 422.2,389.5C424.3,391.8 426.1,394.6 427.6,397.4C429.1,400.2 430.6,403.2 431.5,406.1C432.4,409.0 433.0,411.9 433.1,414.8C433.2,417.7 432.8,420.6 432.0,423.5C431.2,426.4 429.9,429.3 428.4,432.1C426.9,434.8 425.0,437.6 422.9,440.0C420.8,442.3 418.4,444.5 415.9,446.0C413.5,447.4 410.6,448.4 408.1,448.7C405.7,448.9 403.2,448.5 401.1,447.6C399.1,446.7 397.4,445.0 395.7,443.2C394.0,441.4 392.4,439.2 391.0,436.8C389.5,434.4 388.2,431.7 387.1,428.9C386.0,426.2 384.9,423.1 384.3,420.2C383.8,417.4 383.6,414.4 384.0,411.6C384.3,408.9 385.3,406.3 386.4,403.8C387.4,401.2 388.7,399.0 390.3,396.6C391.8,394.2 393.8,391.6 395.7,389.5C397.5,387.4 399.2,385.3 401.1,383.9C403.1,382.6 405.0,381.2 407.3,381.2Z"/><path d="M407.4,379.7C409.8,379.7 412.9,380.7 415.5,382.2C418.1,383.6 420.7,386.0 422.9,388.4C425.1,390.8 426.9,393.7 428.6,396.6C430.2,399.5 431.7,402.7 432.6,405.7C433.6,408.7 434.2,411.7 434.3,414.7C434.4,417.7 434.0,420.8 433.2,423.8C432.4,426.8 431.0,429.9 429.4,432.7C427.8,435.6 425.8,438.5 423.7,440.9C421.5,443.3 418.9,445.7 416.4,447.2C413.8,448.7 410.8,449.7 408.2,450.0C405.7,450.2 403.1,449.8 400.9,448.8C398.8,447.9 397.0,446.1 395.2,444.3C393.4,442.4 391.8,440.1 390.3,437.7C388.8,435.2 387.4,432.3 386.2,429.4C385.1,426.6 383.9,423.4 383.4,420.4C382.8,417.4 382.6,414.3 383.0,411.5C383.4,408.6 384.4,405.9 385.5,403.2C386.6,400.6 387.9,398.3 389.6,395.8C391.2,393.3 393.3,390.6 395.2,388.4C397.1,386.2 398.9,384.1 400.9,382.6C403.0,381.2 405.0,379.8 407.4,379.7Z"/><path d="M407.4,378.5C410.0,378.5 413.2,379.5 415.9,381.0C418.6,382.5 421.3,385.0 423.5,387.5C425.8,390.0 427.7,393.0 429.4,396.0C431.1,398.9 432.6,402.2 433.6,405.3C434.6,408.4 435.2,411.5 435.3,414.7C435.4,417.8 435.0,420.9 434.2,424.0C433.3,427.1 431.9,430.3 430.2,433.3C428.6,436.2 426.5,439.2 424.3,441.7C422.0,444.2 419.4,446.6 416.7,448.2C414.1,449.7 411.0,450.8 408.3,451.1C405.6,451.4 403.0,450.9 400.7,449.9C398.5,448.9 396.6,447.1 394.8,445.2C393.0,443.3 391.3,440.9 389.7,438.4C388.2,435.8 386.7,432.9 385.5,429.9C384.3,426.9 383.1,423.6 382.5,420.5C382.0,417.4 381.8,414.2 382.2,411.3C382.5,408.3 383.6,405.5 384.7,402.8C385.9,400.1 387.3,397.7 389.0,395.1C390.6,392.6 392.8,389.8 394.8,387.5C396.8,385.2 398.6,383.0 400.7,381.5C402.8,380.0 404.9,378.6 407.4,378.5Z"/><path d="M407.5,377.6C410.1,377.5 413.4,378.6 416.1,380.2C418.9,381.7 421.7,384.2 424.0,386.8C426.3,389.3 428.3,392.4 430.0,395.5C431.7,398.5 433.3,401.9 434.4,405.0C435.4,408.2 436.0,411.4 436.1,414.6C436.2,417.8 435.8,421.0 434.9,424.2C434.1,427.4 432.6,430.6 430.9,433.7C429.2,436.7 427.1,439.8 424.8,442.4C422.5,444.9 419.8,447.4 417.0,449.0C414.3,450.6 411.1,451.6 408.4,451.9C405.6,452.2 402.9,451.8 400.6,450.7C398.3,449.7 396.4,447.9 394.5,445.9C392.6,443.9 390.9,441.5 389.3,438.9C387.7,436.3 386.2,433.3 384.9,430.2C383.7,427.2 382.5,423.8 381.9,420.6C381.3,417.5 381.1,414.2 381.5,411.2C381.9,408.1 383.0,405.2 384.1,402.5C385.3,399.7 386.8,397.2 388.5,394.6C390.2,392.0 392.5,389.1 394.5,386.8C396.5,384.5 398.4,382.2 400.6,380.7C402.8,379.1 404.9,377.7 407.5,377.6Z"/><path d="M407.5,377.1C410.1,377.0 413.5,378.1 416.3,379.7C419.1,381.2 422.0,383.8 424.3,386.4C426.6,389.0 428.6,392.1 430.4,395.2C432.1,398.3 433.8,401.7 434.8,404.9C435.8,408.1 436.5,411.4 436.6,414.6C436.7,417.8 436.3,421.1 435.4,424.3C434.5,427.5 433.0,430.8 431.3,433.9C429.6,437.0 427.5,440.1 425.1,442.7C422.8,445.3 420.0,447.8 417.2,449.4C414.4,451.0 411.2,452.1 408.4,452.4C405.6,452.7 402.9,452.2 400.5,451.2C398.1,450.2 396.2,448.3 394.3,446.3C392.4,444.3 390.6,441.9 389.0,439.2C387.4,436.5 385.9,433.5 384.6,430.4C383.4,427.3 382.1,423.9 381.5,420.7C380.9,417.5 380.7,414.2 381.1,411.1C381.5,408.0 382.6,405.1 383.8,402.3C385.0,399.5 386.4,397.0 388.2,394.3C389.9,391.6 392.2,388.8 394.3,386.4C396.4,384.0 398.3,381.8 400.5,380.2C402.7,378.6 404.9,377.2 407.5,377.1Z"/></g><g fill="none" stroke="#ea5a5e" stroke-width="0.85" stroke-opacity="0.80"><path d="M393.4,417.2C393.4,416.5 393.6,415.8 394.0,415.2C394.4,414.6 395.1,414.0 395.8,413.6C396.5,413.2 397.4,412.9 398.2,412.8C398.9,412.8 399.6,412.9 400.4,413.3C401.1,413.6 401.9,414.3 402.6,414.8C403.2,415.2 403.9,415.8 404.4,416.2C404.8,416.6 405.4,416.8 405.4,417.2C405.4,417.6 404.7,418.1 404.2,418.6C403.6,419.0 402.9,419.6 402.2,420.1C401.5,420.5 400.7,420.9 400.0,421.2C399.2,421.4 398.3,421.5 397.6,421.4C396.8,421.3 396.0,421.0 395.4,420.7C394.8,420.3 394.3,419.7 394.0,419.2C393.6,418.6 393.4,417.8 393.4,417.2Z"/><path d="M391.5,417.1C391.5,416.3 391.8,415.3 392.3,414.5C392.9,413.7 393.8,412.8 394.8,412.3C395.7,411.8 396.9,411.4 398.0,411.3C399.0,411.2 399.9,411.5 400.9,411.9C401.9,412.3 403.0,413.3 403.9,413.9C404.8,414.6 405.7,415.3 406.3,415.8C406.9,416.3 407.7,416.6 407.7,417.1C407.7,417.7 406.8,418.4 406.0,419.0C405.3,419.7 404.3,420.5 403.3,421.0C402.4,421.6 401.4,422.2 400.4,422.5C399.4,422.8 398.2,423.0 397.2,422.9C396.1,422.8 395.0,422.4 394.2,421.8C393.4,421.3 392.8,420.6 392.3,419.8C391.9,419.0 391.5,418.0 391.5,417.1Z"/><path d="M389.7,417.1C389.7,416.0 390.1,414.8 390.7,413.8C391.4,412.8 392.6,411.7 393.8,411.1C394.9,410.4 396.5,409.9 397.8,409.8C399.1,409.7 400.3,410.0 401.5,410.6C402.7,411.1 404.1,412.3 405.2,413.1C406.3,413.9 407.4,414.8 408.2,415.5C409.0,416.1 410.0,416.5 409.9,417.1C409.9,417.8 408.8,418.7 407.9,419.5C407.0,420.3 405.7,421.3 404.5,422.0C403.3,422.7 402.1,423.5 400.8,423.8C399.5,424.2 398.1,424.4 396.8,424.3C395.5,424.1 394.1,423.6 393.1,423.0C392.1,422.4 391.3,421.5 390.7,420.5C390.2,419.5 389.7,418.3 389.7,417.1Z"/><path d="M388.0,417.1C388.0,415.8 388.4,414.3 389.2,413.1C390.0,411.9 391.4,410.7 392.8,409.9C394.2,409.1 396.1,408.5 397.6,408.4C399.2,408.3 400.6,408.6 402.0,409.3C403.5,409.9 405.1,411.3 406.4,412.3C407.8,413.3 409.1,414.3 410.1,415.1C411.0,415.9 412.2,416.3 412.1,417.1C412.1,417.9 410.7,419.0 409.7,419.9C408.6,420.9 407.0,422.1 405.6,422.9C404.2,423.8 402.8,424.7 401.2,425.1C399.7,425.6 398.0,425.8 396.4,425.7C394.9,425.5 393.2,424.9 392.0,424.1C390.8,423.4 389.9,422.3 389.2,421.1C388.5,420.0 388.0,418.5 388.0,417.1Z"/><path d="M386.3,417.1C386.3,415.6 386.7,413.8 387.7,412.5C388.6,411.1 390.2,409.6 391.9,408.7C393.5,407.8 395.7,407.1 397.4,407.0C399.2,406.8 400.9,407.3 402.6,408.0C404.3,408.8 406.1,410.4 407.7,411.5C409.2,412.6 410.8,413.8 411.9,414.8C413.0,415.7 414.4,416.2 414.3,417.1C414.2,418.0 412.7,419.2 411.4,420.4C410.2,421.5 408.4,422.8 406.8,423.9C405.1,424.9 403.4,425.9 401.6,426.4C399.8,426.9 397.8,427.2 396.0,427.0C394.3,426.8 392.3,426.1 390.9,425.3C389.5,424.4 388.4,423.1 387.7,421.8C386.9,420.4 386.3,418.7 386.3,417.1Z"/><path d="M384.6,417.1C384.6,415.3 385.1,413.4 386.2,411.8C387.2,410.2 389.1,408.6 390.9,407.6C392.8,406.6 395.3,405.7 397.3,405.6C399.3,405.5 401.1,405.9 403.1,406.8C405.0,407.7 407.1,409.5 408.9,410.8C410.6,412.0 412.4,413.4 413.6,414.5C414.9,415.5 416.5,416.0 416.4,417.1C416.3,418.1 414.5,419.5 413.1,420.8C411.7,422.1 409.7,423.6 407.8,424.7C406.0,425.9 404.0,427.1 402.0,427.6C400.0,428.2 397.7,428.6 395.7,428.3C393.7,428.1 391.5,427.3 389.9,426.3C388.3,425.3 387.1,423.9 386.2,422.4C385.3,420.8 384.6,418.9 384.6,417.1Z"/><path d="M383.0,417.1C383.0,415.1 383.6,413.0 384.8,411.2C385.9,409.4 388.0,407.7 390.1,406.5C392.1,405.3 394.9,404.4 397.1,404.3C399.4,404.1 401.4,404.7 403.6,405.6C405.7,406.6 408.1,408.6 410.1,410.0C412.0,411.4 414.0,413.0 415.3,414.1C416.7,415.3 418.5,415.9 418.4,417.1C418.3,418.3 416.3,419.8 414.8,421.2C413.2,422.6 410.9,424.3 408.9,425.6C406.8,426.9 404.7,428.2 402.4,428.8C400.2,429.5 397.6,429.9 395.3,429.6C393.1,429.4 390.6,428.5 388.9,427.4C387.1,426.3 385.7,424.7 384.8,423.0C383.8,421.2 383.0,419.0 383.0,417.1Z"/><path d="M381.4,417.1C381.4,414.9 382.1,412.5 383.4,410.6C384.7,408.7 386.9,406.7 389.2,405.4C391.5,404.2 394.5,403.1 397.0,403.0C399.4,402.8 401.7,403.4 404.1,404.5C406.4,405.5 409.0,407.7 411.2,409.3C413.3,410.9 415.5,412.5 417.0,413.8C418.5,415.1 420.5,415.8 420.4,417.1C420.3,418.4 418.1,420.0 416.4,421.6C414.6,423.2 412.2,425.0 409.9,426.4C407.6,427.8 405.3,429.3 402.8,430.0C400.3,430.7 397.5,431.1 395.0,430.8C392.5,430.6 389.8,429.6 387.9,428.4C386.0,427.2 384.5,425.4 383.4,423.5C382.3,421.7 381.4,419.2 381.4,417.1Z"/><path d="M379.9,417.1C379.9,414.7 380.6,412.1 382.0,410.0C383.4,407.9 385.9,405.8 388.4,404.4C390.8,403.0 394.1,401.9 396.8,401.7C399.5,401.6 402.0,402.2 404.5,403.4C407.1,404.5 409.9,406.9 412.3,408.6C414.6,410.3 416.9,412.1 418.6,413.5C420.3,415.0 422.4,415.7 422.2,417.1C422.1,418.5 419.8,420.3 417.9,422.0C416.0,423.7 413.3,425.7 410.9,427.3C408.4,428.8 405.8,430.3 403.1,431.1C400.4,431.9 397.4,432.3 394.7,432.0C392.0,431.7 389.1,430.7 387.0,429.4C384.9,428.0 383.2,426.1 382.0,424.1C380.9,422.0 379.9,419.4 379.9,417.1Z"/><path d="M378.5,417.0C378.5,414.5 379.2,411.8 380.8,409.5C382.3,407.2 384.9,404.9 387.6,403.4C390.2,401.9 393.8,400.7 396.7,400.5C399.6,400.4 402.2,401.1 405.0,402.3C407.8,403.5 410.8,406.1 413.3,408.0C415.8,409.8 418.3,411.8 420.1,413.3C421.9,414.8 424.2,415.5 424.1,417.0C423.9,418.6 421.4,420.5 419.4,422.3C417.3,424.2 414.4,426.4 411.8,428.0C409.1,429.7 406.4,431.3 403.5,432.2C400.6,433.0 397.3,433.5 394.4,433.2C391.5,432.9 388.3,431.7 386.1,430.3C383.8,428.9 382.0,426.8 380.8,424.6C379.5,422.4 378.5,419.6 378.5,417.0Z"/><path d="M377.1,417.0C377.1,414.3 377.9,411.4 379.5,409.0C381.2,406.5 384.0,404.1 386.8,402.5C389.6,400.9 393.4,399.6 396.5,399.4C399.6,399.2 402.4,400.0 405.4,401.3C408.4,402.6 411.6,405.4 414.3,407.3C417.0,409.3 419.7,411.4 421.6,413.0C423.5,414.6 425.9,415.4 425.8,417.0C425.6,418.7 422.9,420.7 420.8,422.7C418.6,424.6 415.5,427.0 412.7,428.8C409.9,430.5 406.9,432.3 403.8,433.2C400.7,434.1 397.2,434.6 394.1,434.3C391.0,433.9 387.6,432.7 385.2,431.2C382.8,429.7 380.9,427.5 379.5,425.1C378.2,422.8 377.1,419.7 377.1,417.0Z"/><path d="M375.8,417.0C375.8,414.2 376.7,411.0 378.4,408.5C380.1,405.9 383.1,403.3 386.1,401.6C389.1,399.9 393.1,398.6 396.4,398.4C399.7,398.1 402.7,398.9 405.8,400.3C408.9,401.7 412.4,404.7 415.2,406.8C418.1,408.8 420.9,411.0 422.9,412.7C425.0,414.5 427.5,415.3 427.4,417.0C427.3,418.7 424.4,421.0 422.1,423.0C419.8,425.1 416.5,427.6 413.5,429.4C410.5,431.3 407.4,433.2 404.1,434.2C400.8,435.1 397.1,435.6 393.8,435.3C390.5,434.9 387.0,433.6 384.4,432.0C381.8,430.4 379.8,428.1 378.4,425.6C377.0,423.1 375.8,419.9 375.8,417.0Z"/><path d="M374.6,417.0C374.6,414.0 375.5,410.7 377.3,408.0C379.1,405.3 382.3,402.6 385.5,400.8C388.6,399.0 392.8,397.6 396.3,397.4C399.7,397.1 402.9,398.0 406.2,399.4C409.5,400.9 413.1,404.0 416.1,406.2C419.1,408.4 422.1,410.7 424.2,412.5C426.3,414.3 429.0,415.2 428.9,417.0C428.7,418.8 425.7,421.2 423.3,423.3C420.9,425.5 417.4,428.1 414.3,430.1C411.1,432.0 407.8,434.0 404.4,435.0C400.9,436.1 397.0,436.6 393.6,436.2C390.1,435.8 386.4,434.5 383.6,432.8C380.9,431.1 378.8,428.7 377.3,426.0C375.8,423.4 374.6,420.0 374.6,417.0Z"/><path d="M373.6,417.0C373.6,413.9 374.5,410.4 376.4,407.6C378.3,404.8 381.6,401.9 384.9,400.1C388.2,398.2 392.5,396.7 396.2,396.5C399.8,396.2 403.1,397.1 406.5,398.6C410.0,400.2 413.7,403.4 416.9,405.7C420.0,408.0 423.1,410.4 425.4,412.3C427.6,414.2 430.4,415.1 430.2,417.0C430.1,418.9 427.0,421.3 424.4,423.6C421.9,425.9 418.3,428.6 415.0,430.7C411.7,432.7 408.2,434.8 404.6,435.8C401.0,436.9 396.9,437.5 393.3,437.1C389.7,436.7 385.8,435.3 383.0,433.5C380.1,431.7 378.0,429.2 376.4,426.4C374.8,423.7 373.6,420.2 373.6,417.0Z"/><path d="M372.6,417.0C372.6,413.8 373.6,410.2 375.6,407.2C377.5,404.3 380.9,401.4 384.3,399.4C387.8,397.5 392.3,396.0 396.1,395.7C399.8,395.5 403.2,396.4 406.8,398.0C410.4,399.6 414.3,402.9 417.5,405.3C420.8,407.6 424.0,410.2 426.3,412.1C428.6,414.1 431.6,415.1 431.4,417.0C431.2,419.0 428.0,421.5 425.4,423.8C422.7,426.2 419.0,429.0 415.6,431.2C412.2,433.3 408.6,435.4 404.9,436.5C401.1,437.6 396.9,438.2 393.1,437.8C389.4,437.4 385.3,435.9 382.4,434.1C379.5,432.3 377.2,429.6 375.6,426.8C373.9,423.9 372.6,420.3 372.6,417.0Z"/><path d="M372.0,417.0C372.0,413.7 373.0,410.0 375.0,407.0C377.0,404.0 380.5,401.0 384.0,399.0C387.5,397.0 392.2,395.4 396.0,395.2C399.8,394.9 403.3,395.9 407.0,397.5C410.7,399.1 414.7,402.6 418.0,405.0C421.3,407.4 424.6,410.0 427.0,412.0C429.4,414.0 432.4,415.0 432.2,417.0C432.0,419.0 428.7,421.6 426.0,424.0C423.3,426.4 419.5,429.3 416.0,431.5C412.5,433.7 408.8,435.9 405.0,437.0C401.2,438.1 396.8,438.7 393.0,438.3C389.2,437.9 385.0,436.4 382.0,434.5C379.0,432.6 376.7,429.9 375.0,427.0C373.3,424.1 372.0,420.3 372.0,417.0Z"/></g><g fill="none" stroke="#665fe6" stroke-width="1.15" stroke-opacity="0.85"><path d="M528.6,452.6C529.2,452.6 529.8,452.9 530.4,453.3C530.9,453.7 531.5,454.5 532.0,455.2C532.4,455.9 532.9,456.8 533.2,457.6C533.6,458.5 533.8,459.4 533.9,460.3C534.0,461.2 534.0,462.1 534.0,463.0C533.9,463.9 533.7,464.8 533.4,465.7C533.1,466.6 532.7,467.6 532.3,468.4C531.8,469.2 531.2,469.9 530.7,470.3C530.1,470.7 529.5,471.0 528.9,470.9C528.3,470.9 527.7,470.6 527.2,470.2C526.6,469.7 526.1,468.9 525.7,468.1C525.3,467.3 525.0,466.5 524.8,465.4C524.5,464.4 524.4,463.1 524.3,461.9C524.3,460.8 524.4,459.5 524.6,458.4C524.8,457.3 525.2,456.3 525.6,455.4C526.0,454.6 526.5,453.9 527.0,453.4C527.5,453.0 528.0,452.7 528.6,452.6Z"/><path d="M528.4,449.4C529.3,449.4 530.3,449.7 531.2,450.3C532.1,450.9 533.0,451.9 533.8,452.9C534.6,453.8 535.3,455.0 535.8,456.1C536.3,457.3 536.7,458.5 536.9,459.8C537.0,461.0 537.1,462.2 537.0,463.4C536.9,464.6 536.5,465.8 536.1,467.0C535.6,468.2 535.0,469.6 534.3,470.7C533.6,471.7 532.6,472.6 531.7,473.2C530.8,473.8 529.9,474.1 528.9,474.1C528.0,474.0 527.0,473.7 526.1,473.0C525.3,472.4 524.4,471.4 523.8,470.3C523.2,469.2 522.6,468.1 522.3,466.7C521.9,465.3 521.7,463.5 521.6,461.9C521.6,460.4 521.7,458.7 522.0,457.2C522.3,455.8 522.9,454.3 523.6,453.2C524.2,452.1 525.0,451.1 525.9,450.5C526.7,449.9 527.5,449.5 528.4,449.4Z"/><path d="M528.2,446.3C529.5,446.3 530.9,446.7 532.1,447.4C533.3,448.1 534.5,449.4 535.6,450.6C536.6,451.8 537.7,453.2 538.4,454.7C539.1,456.1 539.5,457.7 539.8,459.2C540.1,460.7 540.1,462.2 540.0,463.8C539.8,465.3 539.4,466.8 538.7,468.3C538.1,469.8 537.3,471.6 536.3,472.8C535.3,474.1 534.0,475.3 532.8,476.0C531.6,476.7 530.2,477.1 528.9,477.1C527.7,477.1 526.3,476.6 525.1,475.8C523.9,475.0 522.8,473.7 521.9,472.4C521.1,471.1 520.3,469.6 519.8,467.8C519.3,466.1 519.0,463.9 518.9,461.9C518.9,460.0 519.0,457.9 519.5,456.0C519.9,454.2 520.7,452.5 521.6,451.1C522.5,449.7 523.6,448.4 524.7,447.7C525.8,446.9 527.0,446.4 528.2,446.3Z"/><path d="M528.1,443.3C529.6,443.3 531.4,443.8 532.9,444.6C534.5,445.5 536.0,447.0 537.4,448.4C538.7,449.9 540.0,451.6 540.9,453.3C541.8,455.0 542.3,456.9 542.7,458.7C543.0,460.5 543.1,462.3 542.9,464.1C542.7,465.9 542.1,467.7 541.3,469.5C540.6,471.3 539.5,473.4 538.2,474.9C537.0,476.5 535.4,477.9 533.8,478.7C532.3,479.6 530.6,480.1 528.9,480.0C527.3,480.0 525.6,479.4 524.1,478.5C522.6,477.5 521.2,476.0 520.1,474.4C519.0,472.8 518.1,471.1 517.4,469.0C516.8,466.9 516.4,464.3 516.3,462.0C516.2,459.6 516.4,457.1 517.0,454.9C517.6,452.8 518.5,450.6 519.6,449.0C520.8,447.3 522.2,445.9 523.6,444.9C525.0,444.0 526.5,443.4 528.1,443.3Z"/><path d="M527.9,440.5C529.8,440.4 531.9,441.0 533.8,442.0C535.6,443.0 537.5,444.7 539.1,446.4C540.7,448.0 542.3,450.0 543.3,452.0C544.4,454.0 545.1,456.1 545.5,458.2C545.9,460.3 546.0,462.4 545.7,464.5C545.5,466.5 544.8,468.6 543.9,470.7C542.9,472.8 541.7,475.2 540.2,476.9C538.6,478.7 536.7,480.3 534.8,481.3C533.0,482.3 530.9,482.9 529.0,482.8C527.0,482.8 524.9,482.1 523.1,481.0C521.3,479.9 519.6,478.1 518.3,476.3C517.0,474.5 515.9,472.5 515.1,470.1C514.3,467.7 513.8,464.7 513.7,462.0C513.6,459.3 513.9,456.3 514.6,453.8C515.2,451.4 516.4,448.9 517.8,447.0C519.1,445.1 520.9,443.4 522.6,442.3C524.2,441.2 526.0,440.5 527.9,440.5Z"/><path d="M527.7,437.8C529.9,437.7 532.4,438.4 534.6,439.5C536.7,440.6 538.9,442.5 540.8,444.4C542.6,446.3 544.5,448.5 545.7,450.7C547.0,452.9 547.8,455.4 548.2,457.7C548.7,460.1 548.8,462.4 548.5,464.8C548.2,467.1 547.5,469.5 546.4,471.8C545.3,474.2 543.8,476.9 542.0,478.9C540.3,480.8 538.0,482.7 535.8,483.8C533.6,484.9 531.2,485.5 529.0,485.5C526.7,485.4 524.2,484.6 522.1,483.4C520.1,482.2 518.1,480.2 516.5,478.2C515.0,476.1 513.7,473.8 512.8,471.1C511.9,468.4 511.3,465.0 511.2,462.0C511.1,458.9 511.4,455.6 512.2,452.8C513.0,450.0 514.4,447.3 515.9,445.1C517.5,442.9 519.5,441.0 521.5,439.8C523.5,438.6 525.5,437.8 527.7,437.8Z"/><path d="M527.6,435.2C530.0,435.1 532.9,435.9 535.3,437.1C537.8,438.3 540.3,440.4 542.4,442.5C544.5,444.6 546.6,447.1 548.1,449.5C549.5,452.0 550.4,454.7 550.9,457.3C551.4,459.9 551.6,462.5 551.2,465.1C550.9,467.7 550.0,470.3 548.8,472.9C547.5,475.5 545.8,478.4 543.8,480.7C541.8,482.9 539.2,484.9 536.7,486.1C534.3,487.3 531.6,488.0 529.0,488.0C526.4,487.9 523.5,487.1 521.2,485.7C518.8,484.4 516.6,482.1 514.8,479.9C513.1,477.6 511.6,475.1 510.6,472.1C509.6,469.1 508.9,465.3 508.7,462.0C508.6,458.6 509.0,455.0 509.9,451.9C510.8,448.7 512.4,445.7 514.1,443.3C515.9,440.9 518.2,438.8 520.5,437.5C522.7,436.1 525.1,435.3 527.6,435.2Z"/><path d="M527.4,432.8C530.2,432.8 533.3,433.5 536.1,434.9C538.8,436.2 541.6,438.5 544.0,440.8C546.4,443.1 548.7,445.7 550.3,448.4C551.9,451.1 552.9,454.1 553.5,456.9C554.0,459.7 554.2,462.5 553.9,465.4C553.5,468.2 552.5,471.0 551.1,473.8C549.7,476.7 547.8,479.9 545.6,482.3C543.3,484.7 540.4,486.9 537.7,488.3C534.9,489.6 531.9,490.4 529.0,490.3C526.1,490.2 522.9,489.3 520.3,487.8C517.7,486.4 515.2,483.9 513.2,481.5C511.2,479.0 509.6,476.2 508.4,473.0C507.3,469.8 506.5,465.7 506.4,462.0C506.3,458.3 506.7,454.4 507.7,451.0C508.7,447.6 510.4,444.3 512.4,441.6C514.4,439.0 517.0,436.8 519.5,435.3C522.0,433.8 524.6,432.9 527.4,432.8Z"/><path d="M527.3,430.7C530.3,430.6 533.8,431.4 536.8,432.9C539.8,434.3 542.9,436.8 545.5,439.2C548.1,441.7 550.7,444.6 552.4,447.4C554.2,450.3 555.2,453.5 555.9,456.5C556.5,459.6 556.8,462.6 556.3,465.6C555.9,468.7 554.8,471.7 553.3,474.7C551.8,477.8 549.7,481.3 547.2,483.8C544.8,486.4 541.6,488.8 538.5,490.2C535.5,491.6 532.2,492.5 529.0,492.4C525.8,492.3 522.3,491.3 519.4,489.7C516.5,488.2 513.8,485.6 511.6,482.9C509.5,480.3 507.7,477.3 506.4,473.8C505.2,470.3 504.3,465.9 504.2,462.0C504.0,458.0 504.5,453.8 505.5,450.2C506.6,446.5 508.6,443.0 510.8,440.2C512.9,437.3 515.8,434.9 518.6,433.3C521.3,431.8 524.2,430.8 527.3,430.7Z"/><path d="M527.2,430.6C530.4,430.6 533.9,431.5 537.0,433.0C540.1,434.5 543.3,437.2 546.0,439.5C548.7,441.8 550.7,445.0 553.0,446.5C555.3,448.0 557.8,447.8 560.0,448.5C562.2,449.2 564.4,449.4 566.0,450.5C567.6,451.6 568.8,453.6 569.5,455.0C570.2,456.4 570.2,457.5 570.0,459.0C569.8,460.5 569.2,462.7 568.0,464.0C566.8,465.3 564.8,466.1 563.0,467.0C561.2,467.9 558.7,468.0 557.0,469.5C555.3,471.0 554.7,473.6 553.0,476.0C551.3,478.4 549.4,481.7 547.0,484.0C544.6,486.3 541.5,488.6 538.5,490.0C535.5,491.4 532.2,492.4 529.0,492.3C525.8,492.2 522.0,491.1 519.0,489.5C516.0,487.9 513.2,485.6 511.0,483.0C508.8,480.4 506.8,477.5 505.5,474.0C504.2,470.5 503.4,466.0 503.2,462.0C503.0,458.0 503.4,453.7 504.5,450.0C505.6,446.3 507.8,442.8 510.0,440.0C512.2,437.2 515.1,434.8 518.0,433.2C520.9,431.6 524.0,430.6 527.2,430.6Z"/><path d="M527.0,427.6C530.5,427.5 534.5,428.4 538.0,430.0C541.5,431.6 545.0,435.0 548.0,437.0C551.0,439.0 553.5,440.9 556.0,442.0C558.5,443.1 560.5,443.0 563.0,443.5C565.5,444.0 568.7,443.8 571.0,445.0C573.3,446.2 575.7,448.8 577.0,451.0C578.3,453.2 579.0,455.5 578.8,458.0C578.6,460.5 577.6,463.8 576.0,466.0C574.4,468.2 571.3,469.9 569.0,471.0C566.7,472.1 564.2,471.3 562.0,472.5C559.8,473.7 558.0,475.8 556.0,478.0C554.0,480.2 552.7,483.5 550.0,486.0C547.3,488.5 543.5,491.4 540.0,493.0C536.5,494.6 532.7,495.5 529.0,495.4C525.3,495.3 521.3,494.2 518.0,492.5C514.7,490.8 511.5,487.9 509.0,485.0C506.5,482.1 504.4,478.8 503.0,475.0C501.6,471.2 500.6,466.3 500.4,462.0C500.2,457.7 500.7,453.0 502.0,449.0C503.3,445.0 505.5,441.1 508.0,438.0C510.5,434.9 513.8,432.2 517.0,430.5C520.2,428.8 523.5,427.7 527.0,427.6Z"/></g><g fill="none" stroke="#ea5a5e" stroke-width="1.15" stroke-opacity="0.85"><path d="M466.1,471.2C467.1,471.2 468.2,471.5 469.1,471.9C470.0,472.2 470.9,472.8 471.6,473.4C472.2,473.9 472.8,474.5 473.1,475.1C473.4,475.8 473.5,476.5 473.3,477.1C473.2,477.8 472.7,478.4 472.1,478.9C471.5,479.4 470.5,479.8 469.6,480.2C468.7,480.7 467.6,481.2 466.6,481.3C465.6,481.4 464.5,481.2 463.6,480.9C462.7,480.6 461.7,480.0 461.1,479.4C460.4,478.8 459.9,478.0 459.6,477.4C459.3,476.7 459.2,476.0 459.3,475.4C459.4,474.7 459.7,474.0 460.3,473.4C460.9,472.8 461.9,472.1 462.8,471.8C463.8,471.4 465.0,471.2 466.1,471.2Z"/><path d="M466.1,469.2C467.5,469.2 468.9,469.6 470.2,470.1C471.5,470.6 472.7,471.4 473.7,472.2C474.6,472.9 475.3,473.7 475.7,474.6C476.1,475.5 476.3,476.5 476.1,477.4C475.8,478.2 475.2,479.1 474.3,479.8C473.5,480.5 472.2,481.1 470.9,481.7C469.6,482.2 468.1,483.0 466.8,483.1C465.4,483.3 463.9,483.0 462.6,482.5C461.4,482.1 460.1,481.3 459.2,480.5C458.2,479.7 457.5,478.6 457.1,477.7C456.7,476.8 456.5,475.9 456.7,474.9C456.9,474.0 457.3,473.0 458.1,472.2C458.9,471.4 460.3,470.4 461.6,469.9C462.9,469.5 464.6,469.2 466.1,469.2Z"/><path d="M466.1,467.3C467.9,467.3 469.7,467.8 471.3,468.4C472.9,469.0 474.5,470.1 475.7,471.0C476.9,472.0 477.8,473.0 478.3,474.1C478.8,475.2 479.1,476.5 478.8,477.6C478.5,478.7 477.7,479.8 476.6,480.7C475.5,481.6 473.8,482.4 472.2,483.1C470.6,483.8 468.7,484.7 466.9,484.9C465.2,485.1 463.3,484.7 461.7,484.2C460.1,483.6 458.5,482.6 457.3,481.5C456.1,480.5 455.2,479.2 454.7,478.0C454.1,476.9 453.9,475.7 454.1,474.5C454.4,473.4 454.9,472.1 456.0,471.0C457.0,470.0 458.7,468.8 460.4,468.2C462.0,467.5 464.2,467.2 466.1,467.3Z"/><path d="M466.0,465.3C468.3,465.4 470.5,465.9 472.4,466.7C474.3,467.5 476.3,468.7 477.7,469.9C479.1,471.0 480.3,472.3 480.9,473.6C481.5,474.9 481.8,476.5 481.4,477.8C481.0,479.1 480.1,480.4 478.8,481.5C477.4,482.6 475.4,483.6 473.5,484.4C471.5,485.3 469.2,486.4 467.1,486.7C465.0,486.9 462.7,486.4 460.8,485.8C458.8,485.1 456.9,483.8 455.5,482.6C454.0,481.4 452.9,479.8 452.3,478.4C451.6,476.9 451.4,475.5 451.6,474.1C451.9,472.7 452.6,471.2 453.9,469.9C455.1,468.6 457.1,467.2 459.2,466.4C461.2,465.7 463.8,465.3 466.0,465.3Z"/><path d="M466.0,463.4C468.6,463.5 471.2,464.2 473.5,465.1C475.7,465.9 478.0,467.4 479.6,468.8C481.3,470.1 482.6,471.6 483.4,473.1C484.1,474.6 484.4,476.5 484.0,478.0C483.6,479.6 482.4,481.1 480.9,482.4C479.3,483.7 477.0,484.8 474.7,485.8C472.4,486.8 469.7,488.1 467.3,488.4C464.8,488.6 462.1,488.1 459.9,487.3C457.6,486.5 455.3,485.1 453.7,483.6C452.0,482.2 450.7,480.3 450.0,478.7C449.2,477.0 448.9,475.4 449.2,473.7C449.5,472.1 450.3,470.3 451.8,468.8C453.3,467.3 455.6,465.6 458.0,464.7C460.4,463.9 463.5,463.4 466.0,463.4Z"/><path d="M466.0,461.6C469.0,461.7 471.9,462.5 474.5,463.5C477.1,464.5 479.7,466.2 481.5,467.7C483.4,469.2 484.9,470.9 485.8,472.6C486.6,474.4 486.9,476.5 486.5,478.3C486.0,480.0 484.7,481.7 482.9,483.2C481.2,484.7 478.5,485.9 475.9,487.1C473.3,488.2 470.3,489.7 467.4,490.0C464.6,490.3 461.6,489.7 459.0,488.8C456.4,487.9 453.8,486.3 451.9,484.6C450.1,483.0 448.5,480.8 447.7,479.0C446.9,477.1 446.5,475.2 446.9,473.3C447.2,471.4 448.1,469.4 449.8,467.7C451.5,466.0 454.2,464.1 456.9,463.1C459.6,462.1 463.1,461.6 466.0,461.6Z"/><path d="M466.0,459.9C469.3,459.9 472.6,460.8 475.5,461.9C478.4,463.1 481.3,464.9 483.4,466.7C485.5,468.4 487.2,470.2 488.1,472.2C489.0,474.1 489.4,476.5 488.9,478.5C488.3,480.4 486.9,482.3 484.9,484.0C483.0,485.6 479.9,487.0 477.1,488.3C474.2,489.6 470.7,491.3 467.6,491.6C464.4,492.0 461.0,491.3 458.1,490.3C455.3,489.3 452.4,487.4 450.3,485.6C448.2,483.7 446.5,481.4 445.5,479.3C444.6,477.2 444.2,475.1 444.6,473.0C445.0,470.9 446.0,468.6 447.9,466.7C449.8,464.7 452.8,462.7 455.8,461.5C458.8,460.4 462.7,459.8 466.0,459.9Z"/><path d="M466.0,459.0C469.5,459.1 472.8,460.1 476.0,461.3C479.2,462.6 482.7,465.1 485.5,466.5C488.3,467.9 490.6,469.1 493.0,470.0C495.4,470.9 498.2,471.2 500.0,472.0C501.8,472.8 502.9,473.4 503.5,474.5C504.1,475.6 504.1,477.2 503.5,478.5C502.9,479.8 501.6,481.2 500.0,482.0C498.4,482.8 496.2,483.1 494.0,483.5C491.8,483.9 489.7,483.8 487.0,484.5C484.3,485.2 481.2,486.5 478.0,487.7C474.8,488.9 471.3,491.3 468.0,491.7C464.7,492.1 461.0,491.1 458.0,490.0C455.0,488.9 452.3,486.8 450.0,485.0C447.7,483.2 445.4,481.2 444.3,479.0C443.2,476.8 442.9,474.2 443.3,472.0C443.8,469.8 445.1,467.8 447.0,466.0C448.9,464.2 451.8,462.2 455.0,461.0C458.2,459.8 462.5,458.9 466.0,459.0Z"/><path d="M466.0,457.2C469.8,457.3 473.5,458.4 477.0,459.7C480.5,461.0 483.8,463.6 487.0,465.0C490.2,466.4 493.2,467.2 496.0,468.0C498.8,468.8 501.9,468.9 504.0,469.7C506.1,470.4 507.7,471.1 508.5,472.5C509.3,473.9 509.4,476.2 508.8,478.0C508.2,479.8 506.8,482.1 505.0,483.3C503.2,484.5 500.7,484.8 498.0,485.3C495.3,485.8 492.2,485.6 489.0,486.3C485.8,487.0 482.5,488.3 479.0,489.5C475.5,490.7 471.7,493.3 468.0,493.7C464.3,494.1 460.3,493.2 457.0,492.0C453.7,490.8 450.5,488.6 448.0,486.5C445.5,484.4 443.2,481.9 442.0,479.5C440.8,477.1 440.5,474.4 441.0,472.0C441.5,469.6 442.8,467.1 445.0,465.0C447.2,462.9 450.5,460.5 454.0,459.2C457.5,457.9 462.2,457.1 466.0,457.2Z"/><path d="M466.0,455.4C470.2,455.5 474.3,456.7 478.0,458.0C481.7,459.3 484.8,461.7 488.0,463.0C491.2,464.3 494.0,465.2 497.0,466.0C500.0,466.8 503.5,466.7 506.0,467.5C508.5,468.3 510.9,469.2 512.0,471.0C513.1,472.8 513.1,475.7 512.4,478.0C511.7,480.3 510.1,483.4 508.0,485.0C505.9,486.6 503.0,486.9 500.0,487.5C497.0,488.1 493.3,487.8 490.0,488.5C486.7,489.2 483.7,490.3 480.0,491.5C476.3,492.7 472.0,495.3 468.0,495.7C464.0,496.1 459.7,495.3 456.0,494.0C452.3,492.7 448.7,490.3 446.0,488.0C443.3,485.7 441.2,482.7 440.0,480.0C438.8,477.3 438.3,474.7 438.8,472.0C439.3,469.3 440.6,466.4 443.0,464.0C445.4,461.6 449.2,458.9 453.0,457.5C456.8,456.1 461.8,455.3 466.0,455.4Z"/></g><g fill="none" stroke="#665fe6" stroke-width="1.15" stroke-opacity="0.85"><path d="M735.4,449.7C735.9,449.7 736.6,450.0 737.2,450.4C737.7,450.8 738.2,451.5 738.6,452.1C739.0,452.8 739.3,453.6 739.6,454.3C739.8,455.0 740.1,455.7 740.2,456.5C740.4,457.2 740.4,457.8 740.4,458.6C740.3,459.4 740.1,460.3 739.9,461.0C739.7,461.8 739.3,462.5 738.9,463.2C738.5,463.9 738.0,464.7 737.5,465.2C737.0,465.7 736.4,466.1 735.9,466.2C735.4,466.2 734.8,465.9 734.3,465.5C733.8,465.0 733.4,464.3 733.0,463.5C732.7,462.7 732.4,461.8 732.2,460.8C732.0,459.8 732.0,458.6 732.0,457.5C732.0,456.5 732.2,455.3 732.4,454.3C732.6,453.3 733.0,452.3 733.3,451.6C733.7,450.9 734.0,450.6 734.3,450.2C734.6,449.9 734.9,449.7 735.4,449.7Z"/><path d="M735.4,445.5C736.2,445.6 737.6,446.0 738.6,446.6C739.6,447.2 740.5,448.2 741.3,449.2C742.0,450.2 742.6,451.4 743.1,452.4C743.6,453.5 744.0,454.6 744.2,455.6C744.5,456.7 744.6,457.7 744.5,458.9C744.4,460.0 744.1,461.3 743.7,462.5C743.2,463.6 742.6,464.7 741.9,465.7C741.1,466.7 740.1,468.0 739.2,468.7C738.3,469.5 737.2,470.1 736.2,470.1C735.3,470.2 734.2,469.8 733.3,469.1C732.4,468.5 731.5,467.3 730.9,466.1C730.3,464.9 729.7,463.6 729.4,462.1C729.1,460.6 728.9,458.9 729.0,457.3C729.0,455.6 729.3,453.9 729.7,452.4C730.1,450.9 730.9,449.4 731.5,448.4C732.1,447.4 732.6,446.9 733.3,446.4C733.9,445.9 734.5,445.5 735.4,445.5Z"/><path d="M735.3,441.6C736.6,441.7 738.6,442.2 740.0,443.0C741.4,443.8 742.8,445.1 743.9,446.4C744.9,447.7 745.7,449.2 746.5,450.6C747.2,452.1 747.8,453.5 748.2,454.9C748.5,456.3 748.7,457.6 748.6,459.1C748.4,460.6 747.9,462.4 747.3,463.9C746.7,465.4 745.8,466.7 744.7,468.1C743.7,469.5 742.2,471.1 740.9,472.1C739.5,473.0 738.0,473.8 736.6,473.9C735.1,474.0 733.6,473.5 732.3,472.6C731.0,471.7 729.8,470.2 728.8,468.6C727.9,467.1 727.2,465.3 726.7,463.3C726.2,461.4 726.0,459.1 726.1,457.0C726.1,454.9 726.5,452.6 727.1,450.6C727.7,448.7 728.8,446.7 729.7,445.4C730.6,444.0 731.3,443.3 732.3,442.7C733.2,442.1 734.0,441.6 735.3,441.6Z"/><path d="M735.2,437.9C736.9,438.0 739.5,438.6 741.4,439.6C743.2,440.6 745.0,442.2 746.4,443.8C747.8,445.4 748.8,447.2 749.7,449.0C750.7,450.7 751.5,452.4 752.0,454.2C752.4,455.9 752.7,457.5 752.5,459.3C752.3,461.2 751.7,463.3 750.9,465.2C750.0,467.0 748.9,468.7 747.5,470.3C746.1,472.0 744.3,474.0 742.5,475.2C740.7,476.4 738.8,477.3 736.9,477.5C735.0,477.6 733.0,476.9 731.3,475.8C729.6,474.8 728.1,472.9 726.8,471.0C725.6,469.1 724.7,466.9 724.0,464.5C723.4,462.1 723.1,459.3 723.2,456.7C723.3,454.2 723.8,451.3 724.6,449.0C725.4,446.6 726.8,444.1 728.0,442.5C729.1,440.9 730.1,440.0 731.3,439.3C732.5,438.5 733.5,437.8 735.2,437.9Z"/><path d="M735.2,434.5C737.2,434.5 740.4,435.3 742.7,436.4C744.9,437.6 747.1,439.5 748.8,441.4C750.5,443.2 751.8,445.4 752.9,447.4C754.1,449.4 755.1,451.5 755.6,453.5C756.2,455.5 756.5,457.4 756.3,459.5C756.0,461.7 755.3,464.2 754.3,466.4C753.3,468.5 751.9,470.5 750.2,472.4C748.5,474.4 746.2,476.7 744.0,478.1C741.9,479.5 739.5,480.6 737.2,480.7C734.9,480.9 732.4,480.1 730.4,478.9C728.3,477.6 726.4,475.4 724.9,473.2C723.4,471.0 722.2,468.4 721.5,465.6C720.8,462.8 720.4,459.5 720.5,456.5C720.6,453.5 721.2,450.2 722.2,447.4C723.1,444.6 724.9,441.7 726.3,439.8C727.6,438.0 728.9,437.0 730.4,436.1C731.9,435.2 733.1,434.4 735.2,434.5Z"/><path d="M735.1,431.4C737.5,431.4 741.2,432.3 743.9,433.6C746.6,434.9 749.1,437.1 751.1,439.2C753.1,441.2 754.6,443.7 755.9,446.0C757.3,448.3 758.5,450.6 759.1,452.9C759.8,455.2 760.1,457.3 759.9,459.7C759.6,462.2 758.7,465.0 757.5,467.4C756.3,469.9 754.7,472.1 752.7,474.3C750.7,476.5 748.1,479.1 745.5,480.7C743.0,482.3 740.2,483.6 737.5,483.7C734.8,483.9 731.9,483.0 729.5,481.6C727.1,480.1 724.8,477.6 723.1,475.1C721.3,472.7 719.9,469.7 719.1,466.6C718.2,463.4 717.7,459.7 717.9,456.3C718.0,452.9 718.7,449.2 719.9,446.0C721.0,442.9 723.1,439.6 724.7,437.5C726.3,435.3 727.8,434.2 729.5,433.2C731.2,432.2 732.7,431.3 735.1,431.4Z"/><path d="M735.0,428.7C737.8,428.8 742.0,429.7 745.1,431.2C748.1,432.6 751.0,435.0 753.3,437.3C755.5,439.6 757.2,442.3 758.7,444.8C760.2,447.3 761.6,449.8 762.4,452.4C763.1,454.9 763.5,457.2 763.2,459.9C762.9,462.6 761.9,465.7 760.5,468.4C759.2,471.0 757.3,473.5 755.1,475.9C752.8,478.3 749.8,481.2 746.9,483.0C744.0,484.7 740.8,486.1 737.8,486.3C734.7,486.4 731.4,485.5 728.7,483.9C725.9,482.3 723.4,479.6 721.4,476.8C719.4,474.1 717.8,470.9 716.8,467.4C715.9,464.0 715.3,459.9 715.5,456.1C715.6,452.4 716.5,448.3 717.7,444.8C719.0,441.4 721.4,437.8 723.2,435.4C725.0,433.0 726.7,431.8 728.7,430.7C730.6,429.6 732.3,428.6 735.0,428.7Z"/><path d="M735.0,426.9C738.0,427.0 742.7,428.0 746.0,429.5C749.3,431.0 752.5,433.6 755.0,436.0C757.5,438.4 759.3,441.3 761.0,444.0C762.7,446.7 764.2,449.3 765.0,452.0C765.8,454.7 766.2,457.2 765.9,460.0C765.6,462.8 764.5,466.2 763.0,469.0C761.5,471.8 759.5,474.4 757.0,477.0C754.5,479.6 751.2,482.7 748.0,484.5C744.8,486.3 741.3,487.8 738.0,488.0C734.7,488.2 731.0,487.2 728.0,485.5C725.0,483.8 722.2,480.9 720.0,478.0C717.8,475.1 716.1,471.7 715.0,468.0C713.9,464.3 713.3,460.0 713.5,456.0C713.7,452.0 714.6,447.7 716.0,444.0C717.4,440.3 720.0,436.5 722.0,434.0C724.0,431.5 725.8,430.2 728.0,429.0C730.2,427.8 732.0,426.8 735.0,426.9Z"/></g><g fill="none" stroke="#ea5a5e" stroke-width="1.15" stroke-opacity="0.85"><path d="M715.5,458.1C715.5,457.4 715.9,456.5 716.3,456.0C716.8,455.4 717.6,454.9 718.3,454.6C719.1,454.3 720.0,454.1 720.8,454.1C721.7,454.1 722.6,454.2 723.3,454.6C724.1,454.9 724.8,455.5 725.3,456.1C725.8,456.7 726.3,457.4 726.3,458.1C726.3,458.8 725.8,459.6 725.3,460.2C724.8,460.8 724.1,461.3 723.3,461.6C722.6,461.9 721.7,462.1 720.8,462.1C720.0,462.1 719.1,461.9 718.3,461.6C717.6,461.3 716.8,460.8 716.3,460.2C715.9,459.6 715.5,458.8 715.5,458.1Z"/><path d="M712.5,458.1C712.5,457.0 713.1,455.6 713.8,454.7C714.6,453.8 715.8,453.1 717.0,452.6C718.1,452.1 719.6,451.8 720.9,451.8C722.2,451.8 723.6,452.0 724.8,452.6C726.0,453.1 727.1,454.0 727.9,454.9C728.7,455.8 729.5,457.0 729.5,458.1C729.5,459.1 728.7,460.5 727.9,461.4C727.1,462.3 726.0,463.1 724.8,463.5C723.6,464.0 722.2,464.3 720.9,464.3C719.6,464.3 718.1,464.0 717.0,463.5C715.8,463.1 714.6,462.3 713.8,461.4C713.1,460.5 712.5,459.2 712.5,458.1Z"/><path d="M709.6,458.0C709.6,456.5 710.4,454.8 711.4,453.5C712.4,452.3 714.0,451.3 715.6,450.6C717.2,450.0 719.1,449.5 720.9,449.5C722.7,449.5 724.6,449.9 726.2,450.6C727.8,451.3 729.4,452.6 730.4,453.8C731.5,455.0 732.6,456.6 732.6,458.0C732.6,459.5 731.5,461.3 730.4,462.5C729.4,463.8 727.8,464.8 726.2,465.5C724.6,466.1 722.7,466.5 720.9,466.5C719.1,466.5 717.2,466.1 715.6,465.5C714.0,464.8 712.4,463.8 711.4,462.5C710.4,461.3 709.6,459.5 709.6,458.0Z"/><path d="M706.8,458.0C706.8,456.2 707.8,454.0 709.0,452.4C710.3,450.9 712.3,449.6 714.3,448.8C716.3,447.9 718.7,447.4 720.9,447.4C723.1,447.4 725.6,447.9 727.6,448.8C729.5,449.7 731.5,451.2 732.8,452.7C734.2,454.3 735.5,456.2 735.5,458.0C735.5,459.9 734.2,462.1 732.8,463.7C731.5,465.2 729.5,466.5 727.6,467.3C725.6,468.1 723.1,468.6 720.9,468.6C718.7,468.6 716.3,468.1 714.3,467.3C712.3,466.5 710.3,465.2 709.0,463.7C707.8,462.1 706.8,459.9 706.8,458.0Z"/><path d="M704.2,458.0C704.2,455.8 705.3,453.2 706.8,451.3C708.3,449.5 710.7,448.0 713.1,447.0C715.4,446.0 718.3,445.3 721.0,445.3C723.6,445.3 726.5,445.9 728.8,447.0C731.2,448.1 733.6,449.9 735.1,451.7C736.7,453.6 738.3,455.9 738.3,458.0C738.3,460.2 736.7,462.9 735.1,464.7C733.6,466.6 731.2,468.1 728.8,469.1C726.5,470.0 723.6,470.6 721.0,470.6C718.3,470.6 715.4,470.0 713.1,469.1C710.7,468.1 708.3,466.6 706.8,464.7C705.3,462.9 704.2,460.3 704.2,458.0Z"/><path d="M701.7,458.0C701.7,455.4 703.0,452.4 704.7,450.3C706.4,448.2 709.2,446.5 711.9,445.3C714.6,444.2 718.0,443.4 721.0,443.4C724.0,443.4 727.3,444.1 730.0,445.3C732.7,446.6 735.5,448.7 737.3,450.8C739.1,452.9 740.9,455.5 740.9,458.0C740.9,460.5 739.1,463.6 737.3,465.7C735.5,467.8 732.7,469.6 730.0,470.7C727.3,471.8 724.0,472.4 721.0,472.4C718.0,472.4 714.6,471.8 711.9,470.7C709.2,469.6 706.4,467.8 704.7,465.7C703.0,463.6 701.7,460.6 701.7,458.0Z"/><path d="M699.7,458.0C699.7,455.2 701.1,451.8 703.0,449.5C704.9,447.2 708.0,445.3 711.0,444.0C714.0,442.7 717.7,441.9 721.0,441.9C724.3,441.9 728.0,442.6 731.0,444.0C734.0,445.4 737.0,447.7 739.0,450.0C741.0,452.3 743.0,455.2 743.0,458.0C743.0,460.8 741.0,464.2 739.0,466.5C737.0,468.8 734.0,470.8 731.0,472.0C728.0,473.2 724.3,473.9 721.0,473.9C717.7,473.9 714.0,473.2 711.0,472.0C708.0,470.8 704.9,468.8 703.0,466.5C701.1,464.2 699.7,460.8 699.7,458.0Z"/></g>
<line x1="754.9" y1="279.8" x2="762.8" y2="283.2" stroke="#2a2a90" stroke-width="0.8"/><circle cx="754.9" cy="279.8" r="1.3" fill="#25258a"/><circle cx="762.8" cy="283.2" r="1.3" fill="#25258a"/><line x1="900.8" y1="333.7" x2="909.8" y2="324.9" stroke="#2a2a90" stroke-width="0.8"/><circle cx="909.8" cy="324.9" r="1.5" fill="#25258a"/><circle cx="900.8" cy="333.7" r="1.0" fill="#25258a"/><line x1="679.6" y1="364.9" x2="687.0" y2="361.1" stroke="#2a2a90" stroke-width="0.8"/><circle cx="679.6" cy="364.9" r="1.3" fill="#25258a"/><circle cx="687.0" cy="361.1" r="1.3" fill="#25258a"/><line x1="400.8" y1="410.2" x2="407.2" y2="416.7" stroke="#2a2a90" stroke-width="1.9"/><line x1="398.7" y1="417.2" x2="406.1" y2="417.2" stroke="#2a2a90" stroke-width="0.8"/><circle cx="398.7" cy="417.2" r="1.3" fill="#25258a"/><circle cx="406.5" cy="417.0" r="1.5" fill="#25258a"/><line x1="466.1" y1="476.5" x2="528.9" y2="461.9" stroke="#2a2a90" stroke-width="0.8"/><circle cx="466.1" cy="476.5" r="1.6" fill="#25258a"/><circle cx="528.9" cy="461.9" r="1.6" fill="#25258a"/><line x1="720.8" y1="458.1" x2="735.5" y2="458.1" stroke="#2a2a90" stroke-width="0.8"/><circle cx="720.8" cy="458.1" r="1.3" fill="#25258a"/><circle cx="735.5" cy="458.1" r="1.5" fill="#25258a"/><circle cx="560.8" cy="202.1" r="1.2" fill="#c8143c"/>
<g font-size="9.1" stroke-width="0.3"><text x="554.0" y="223.7" fill="#dc143c" stroke="#dc143c" textLength="14.0" lengthAdjust="spacingAndGlyphs">P05</text><text x="751.0" y="304.6" fill="#25258a" stroke="#25258a" textLength="14.0" lengthAdjust="spacingAndGlyphs">P06</text><text x="898.0" y="355.1" fill="#25258a" stroke="#25258a" textLength="14.0" lengthAdjust="spacingAndGlyphs">P07</text><text x="676.3" y="385.8" fill="#25258a" stroke="#25258a" textLength="14.0" lengthAdjust="spacingAndGlyphs">P08</text><text x="387.0" y="409.4" fill="#25258a" stroke="#25258a" textLength="14.0" lengthAdjust="spacingAndGlyphs">Ref</text><text x="395.8" y="439.9" fill="#25258a" stroke="#25258a" textLength="14.0" lengthAdjust="spacingAndGlyphs">Ref</text><text x="490.4" y="498.2" fill="#25258a" stroke="#25258a" textLength="14.0" lengthAdjust="spacingAndGlyphs">P11</text><text x="721.0" y="480.2" fill="#25258a" stroke="#25258a" textLength="14.0" lengthAdjust="spacingAndGlyphs">P10</text></g>
</g>
<g id="workspace">
<rect x="9.5" y="6.5" width="530" height="367" fill="#eeeeee" stroke="#a4a4a4" stroke-width="1"/>
<path d="M539.5,7 V373.5 H10" fill="none" stroke="#6e6e6e" stroke-width="1.1"/>
<rect x="10" y="7" width="529" height="21.5" fill="#ffffff"/>
<polygon points="21.0,12.5 25.2,14.9 25.2,19.8 21.0,22.3 16.8,19.8 16.8,14.9" fill="#c0141c" stroke="#c0141c" stroke-width="1.0" stroke-linejoin="round"/><path d="M19.0,19.6 l0.6,-4.4 l1.6,1.5 l1.8,-1.6 l-0.6,3.3 l-1.4,0.2 l-0.9,-0.9 l-0.2,1.8 Z" fill="#fff"/>
<text x="29.8" y="21.2" font-size="9.7" fill="#222" stroke="#222" stroke-width="0.2" textLength="42" lengthAdjust="spacingAndGlyphs">Workspace</text>
<g stroke="#444" stroke-width="1" fill="none"><line x1="450" y1="17.5" x2="458" y2="17.5"/><rect x="483.5" y="14" width="7.5" height="7"/><path d="M518,14 l7,7 M525,14 l-7,7"/></g>
<g font-size="9.4" fill="#222" stroke="#222" stroke-width="0.2"><text x="16.7" y="40.7" textLength="26.4" lengthAdjust="spacingAndGlyphs">Results</text><text x="53.3" y="40.7" textLength="13.3" lengthAdjust="spacingAndGlyphs">File</text><text x="76.6" y="40.7" textLength="18.1" lengthAdjust="spacingAndGlyphs">View</text><text x="105" y="40.7" textLength="35.5" lengthAdjust="spacingAndGlyphs">Windows</text></g>
<rect x="16.5" y="52.5" width="240" height="16" fill="#fff" stroke="#d6d6d6" stroke-width="1"/>
<rect x="257" y="53.5" width="240" height="14" fill="#c9c9c9"/>
<g font-size="8.5" fill="#262626"><text x="25.2" y="63.6" textLength="208.6" lengthAdjust="spacingAndGlyphs">CCSD: 009-D2A-S-U-900-8822-008-37C 2019-07-29T13:28:08</text><text x="265.2" y="63.5" textLength="208.4" lengthAdjust="spacingAndGlyphs">CCSD: 009-D2A-S-U-900-8822-008-37C 2019-07-29T10:43:36</text></g>
<g stroke="#666" stroke-width="0.9"><path d="M239,58 l5,5 M244,58 l-5,5"/><path d="M479.3,58 l5,5 M484.3,58 l-5,5"/></g>
<rect x="275.5" y="75.7" width="250.5" height="283.6" fill="#eeeeee" stroke="#a6a6a6" stroke-width="1.0"/><polygon points="286.9,79.9 293.2,83.5 293.2,90.9 286.9,94.5 280.6,90.9 280.6,83.5" fill="#c0141c" stroke="#c0141c" stroke-width="1.0" stroke-linejoin="round"/><path d="M284.0,90.5 l0.8,-6.6 l2.4,2.2 l2.7,-2.4 l-0.8,4.9 l-2.1,0.4 l-1.4,-1.3 l-0.3,2.7 Z" fill="#fff"/><text x="296.7" y="90.6" font-size="9.5" fill="#222" stroke="#222" stroke-width="0.2" textLength="96.6" lengthAdjust="spacingAndGlyphs">CCSD - 011-E1B-S-U-900</text><g stroke="#222" fill="none"><line x1="475.0" y1="88.6" x2="479.0" y2="88.6" stroke-width="1.6"/><rect x="492.7" y="84.4" width="5" height="4.4" stroke-width="1"/><line x1="492.2" y1="84.2" x2="498.2" y2="84.2" stroke-width="1.6"/><path d="M511.3,84.6 l4.2,4.2 M515.5,84.6 l-4.2,4.2" stroke-width="1.2"/></g><g><rect x="285.7" y="105.5" width="10.5" height="10" fill="#fff" stroke="#2f5597" stroke-width="1"/><rect x="285.7" y="105.5" width="10.5" height="2.2" fill="#2f5597"/><path d="M289.3,107.7 v7.8 M292.7,107.7 v7.8 M285.7,110.4 h10.5 M285.7,113 h10.5" stroke="#8a9fc4" stroke-width="0.8" fill="none"/></g><g><circle cx="488.9" cy="109" r="3" fill="#a9cdf2" stroke="#8db7e6" stroke-width="0.8"/><path d="M491.7,112 l3.6,3.6" stroke="#c0702a" stroke-width="1.5"/><path d="M493.7,105.2 v4.6 M491.4,107.5 h4.6" stroke="#e02020" stroke-width="1.5"/></g><g><circle cx="508.6" cy="108.2" r="2.8" fill="#a9cdf2" stroke="#8db7e6" stroke-width="0.8"/><path d="M510.8,111.5 l3.8,4" stroke="#c0702a" stroke-width="1.5"/><rect x="504.6" y="111.8" width="3.8" height="3.6" fill="none" stroke="#e03030" stroke-width="1.1" stroke-dasharray="1.4 1"/></g><rect x="290.0" y="129" width="222" height="216.5" rx="4" fill="#fff"/><g stroke="#e9e9e9" stroke-width="1"><line x1="336.5" y1="156.0" x2="336.5" y2="310.8"/><line x1="359.1" y1="156.0" x2="359.1" y2="310.8"/><line x1="381.6" y1="156.0" x2="381.6" y2="310.8"/><line x1="404.2" y1="156.0" x2="404.2" y2="310.8"/><line x1="426.8" y1="156.0" x2="426.8" y2="310.8"/><line x1="449.4" y1="156.0" x2="449.4" y2="310.8"/><line x1="471.9" y1="156.0" x2="471.9" y2="310.8"/><line x1="494.5" y1="156.0" x2="494.5" y2="310.8"/><line x1="335.0" y1="156.0" x2="494.5" y2="156.0"/><line x1="335.0" y1="194.3" x2="494.5" y2="194.3"/><line x1="335.0" y1="232.7" x2="494.5" y2="232.7"/><line x1="335.0" y1="271.0" x2="494.5" y2="271.0"/><line x1="335.0" y1="309.3" x2="494.5" y2="309.3"/></g><line x1="353.6" y1="150" x2="353.6" y2="309.3" stroke="#dadada" stroke-width="1"/><g font-size="7.9" fill="#555"><text x="333.7" y="158.9" text-anchor="end">359.4</text><text x="333.7" y="197.2" text-anchor="end">261.4</text><text x="333.7" y="235.6" text-anchor="end">163.4</text><text x="333.7" y="273.9" text-anchor="end">65.3</text><text x="333.7" y="312.2" text-anchor="end">-32.7</text><text x="336.0" y="319.7" text-anchor="middle">0</text><text x="358.6" y="319.7" text-anchor="middle">12</text><text x="381.1" y="319.7" text-anchor="middle">24</text><text x="403.7" y="319.7" text-anchor="middle">36</text><text x="426.3" y="319.7" text-anchor="middle">48</text><text x="448.9" y="319.7" text-anchor="middle">60</text><text x="471.4" y="319.7" text-anchor="middle">72</text><text x="494.0" y="319.7" text-anchor="middle">84</text></g><text x="345.8" y="148.3" font-size="7.8" fill="#6a6a6a" textLength="110.1" lengthAdjust="spacingAndGlyphs">CCSD - CCSD - 011-E1B-S-U-900</text><text x="359.6" y="153.7" font-size="7.3" fill="#999">Ref</text><text x="414.7" y="331.3" font-size="8" font-weight="bold" fill="#3c3c3c" text-anchor="middle">Peak</text><text transform="translate(310.2,253.2) rotate(-90)" font-size="7.8" font-weight="bold" fill="#333" textLength="41.5" lengthAdjust="spacingAndGlyphs">CCSD (ppb)</text><line x1="336.5" y1="233.4" x2="501.8" y2="233.4" stroke="#9a9bf7" stroke-width="1.1"/><g fill="#3a70e2"><circle cx="337.9" cy="291.8" r="1.75"/><circle cx="339.8" cy="291.4" r="1.75"/><circle cx="341.8" cy="287.5" r="1.75"/><circle cx="343.7" cy="287.5" r="1.75"/><circle cx="347.4" cy="283.7" r="1.75"/><circle cx="349.4" cy="279.7" r="1.75"/><circle cx="351.2" cy="291.8" r="1.75"/><circle cx="353.2" cy="295.8" r="1.75"/><circle cx="355.2" cy="291.8" r="1.75"/><circle cx="356.9" cy="264.7" r="1.75"/><circle cx="358.8" cy="275.5" r="1.75"/><circle cx="360.7" cy="287.6" r="1.75"/><circle cx="362.7" cy="271.6" r="1.75"/><circle cx="364.6" cy="283.7" r="1.75"/><circle cx="366.4" cy="291.5" r="1.75"/><circle cx="368.3" cy="279.7" r="1.75"/><circle cx="370.2" cy="291.9" r="1.75"/><circle cx="372.0" cy="287.2" r="1.75"/><circle cx="373.9" cy="271.6" r="1.75"/><circle cx="375.8" cy="279.3" r="1.75"/><circle cx="377.8" cy="287.8" r="1.75"/><circle cx="379.7" cy="276.8" r="1.75"/><circle cx="381.5" cy="291.4" r="1.75"/><circle cx="383.4" cy="271.6" r="1.75"/><circle cx="385.4" cy="291.8" r="1.75"/><circle cx="387.3" cy="291.9" r="1.75"/><circle cx="388.7" cy="291.9" r="1.75"/><circle cx="391.2" cy="243.0" r="1.75"/><circle cx="392.9" cy="291.2" r="1.75"/><circle cx="394.8" cy="283.7" r="1.75"/><circle cx="396.5" cy="295.8" r="1.75"/><circle cx="400.4" cy="279.7" r="1.75"/><circle cx="402.5" cy="198.4" r="1.75"/><circle cx="404.1" cy="287.8" r="1.75"/><circle cx="406.2" cy="279.7" r="1.75"/><circle cx="408.0" cy="291.9" r="1.75"/><circle cx="410.0" cy="263.6" r="1.75"/><circle cx="411.9" cy="231.0" r="1.75"/><circle cx="413.8" cy="271.6" r="1.75"/><circle cx="415.7" cy="291.9" r="1.75"/><circle cx="417.5" cy="287.6" r="1.75"/><circle cx="419.5" cy="275.7" r="1.75"/><circle cx="421.2" cy="246.0" r="1.75"/><circle cx="423.3" cy="291.9" r="1.75"/><circle cx="425.1" cy="283.7" r="1.75"/><circle cx="427.1" cy="287.9" r="1.75"/><circle cx="429.0" cy="243.4" r="1.75"/><circle cx="430.8" cy="267.0" r="1.75"/><circle cx="432.7" cy="275.7" r="1.75"/><circle cx="434.6" cy="279.7" r="1.75"/><circle cx="436.6" cy="271.6" r="1.75"/><circle cx="438.5" cy="294.5" r="1.75"/><circle cx="440.3" cy="235.1" r="1.75"/><circle cx="442.4" cy="295.7" r="1.75"/><circle cx="444.2" cy="279.7" r="1.75"/><circle cx="446.1" cy="271.1" r="1.75"/><circle cx="448.0" cy="287.6" r="1.75"/><circle cx="449.8" cy="291.9" r="1.75"/><circle cx="451.9" cy="291.9" r="1.75"/><circle cx="453.6" cy="283.7" r="1.75"/><circle cx="455.6" cy="287.8" r="1.75"/><circle cx="457.5" cy="291.4" r="1.75"/><circle cx="459.3" cy="275.7" r="1.75"/><circle cx="461.5" cy="168.2" r="1.75"/><circle cx="463.1" cy="291.5" r="1.75"/><circle cx="465.0" cy="291.9" r="1.75"/><circle cx="467.0" cy="292.4" r="1.75"/><circle cx="468.8" cy="283.7" r="1.75"/><circle cx="470.7" cy="259.4" r="1.75"/><circle cx="472.6" cy="251.8" r="1.75"/><circle cx="474.6" cy="251.2" r="1.75"/><circle cx="476.5" cy="259.6" r="1.75"/><circle cx="478.3" cy="291.8" r="1.75"/><circle cx="480.2" cy="291.4" r="1.75"/><circle cx="482.1" cy="275.5" r="1.75"/><circle cx="484.0" cy="267.5" r="1.75"/><circle cx="485.8" cy="243.4" r="1.75"/><circle cx="487.7" cy="290.9" r="1.75"/><circle cx="489.6" cy="283.9" r="1.75"/><circle cx="491.4" cy="263.0" r="1.75"/></g>
<rect x="23.8" y="75.7" width="250.7" height="283.6" fill="#eeeeee" stroke="#9c2630" stroke-width="1.4"/><polygon points="35.2,79.9 41.5,83.5 41.5,90.9 35.2,94.5 28.9,90.9 28.9,83.5" fill="#c0141c" stroke="#c0141c" stroke-width="1.0" stroke-linejoin="round"/><path d="M32.3,90.5 l0.8,-6.6 l2.4,2.2 l2.7,-2.4 l-0.8,4.9 l-2.1,0.4 l-1.4,-1.3 l-0.3,2.7 Z" fill="#fff"/><text x="45.0" y="90.6" font-size="9.5" fill="#222" stroke="#222" stroke-width="0.2" textLength="138.4" lengthAdjust="spacingAndGlyphs">Amplitude Ratio - 011-E1B-S-U-900</text><g stroke="#222" fill="none"><line x1="223.5" y1="88.6" x2="227.5" y2="88.6" stroke-width="1.6"/><rect x="241.2" y="84.4" width="5" height="4.4" stroke-width="1"/><line x1="240.7" y1="84.2" x2="246.7" y2="84.2" stroke-width="1.6"/><path d="M259.8,84.6 l4.2,4.2 M264.0,84.6 l-4.2,4.2" stroke-width="1.2"/></g><g><rect x="34.0" y="105.5" width="10.5" height="10" fill="#fff" stroke="#2f5597" stroke-width="1"/><rect x="34.0" y="105.5" width="10.5" height="2.2" fill="#2f5597"/><path d="M37.6,107.7 v7.8 M41.0,107.7 v7.8 M34.0,110.4 h10.5 M34.0,113 h10.5" stroke="#8a9fc4" stroke-width="0.8" fill="none"/></g><g><circle cx="237.4" cy="109" r="3" fill="#a9cdf2" stroke="#8db7e6" stroke-width="0.8"/><path d="M240.2,112 l3.6,3.6" stroke="#c0702a" stroke-width="1.5"/><path d="M242.2,105.2 v4.6 M239.9,107.5 h4.6" stroke="#e02020" stroke-width="1.5"/></g><g><circle cx="257.1" cy="108.2" r="2.8" fill="#a9cdf2" stroke="#8db7e6" stroke-width="0.8"/><path d="M259.3,111.5 l3.8,4" stroke="#c0702a" stroke-width="1.5"/><rect x="253.1" y="111.8" width="3.8" height="3.6" fill="none" stroke="#e03030" stroke-width="1.1" stroke-dasharray="1.4 1"/></g><rect x="38.3" y="129" width="222" height="216.5" rx="4" fill="#fff"/><g stroke="#e9e9e9" stroke-width="1"><line x1="79.0" y1="156.0" x2="79.0" y2="310.8"/><line x1="102.7" y1="156.0" x2="102.7" y2="310.8"/><line x1="126.4" y1="156.0" x2="126.4" y2="310.8"/><line x1="150.2" y1="156.0" x2="150.2" y2="310.8"/><line x1="173.9" y1="156.0" x2="173.9" y2="310.8"/><line x1="197.6" y1="156.0" x2="197.6" y2="310.8"/><line x1="221.3" y1="156.0" x2="221.3" y2="310.8"/><line x1="245.0" y1="156.0" x2="245.0" y2="310.8"/><line x1="77.5" y1="156.0" x2="245.0" y2="156.0"/><line x1="77.5" y1="194.3" x2="245.0" y2="194.3"/><line x1="77.5" y1="232.7" x2="245.0" y2="232.7"/><line x1="77.5" y1="271.0" x2="245.0" y2="271.0"/><line x1="77.5" y1="309.3" x2="245.0" y2="309.3"/></g><line x1="96.7" y1="150" x2="96.7" y2="309.3" stroke="#dadada" stroke-width="1"/><g font-size="7.9" fill="#555"><text x="76.2" y="158.9" text-anchor="end">4.2</text><text x="76.2" y="197.2" text-anchor="end">3.1</text><text x="76.2" y="235.6" text-anchor="end">2.0</text><text x="76.2" y="273.9" text-anchor="end">1.0</text><text x="76.2" y="312.2" text-anchor="end">-0.1</text><text x="78.5" y="319.7" text-anchor="middle">0</text><text x="102.2" y="319.7" text-anchor="middle">12</text><text x="125.9" y="319.7" text-anchor="middle">24</text><text x="149.7" y="319.7" text-anchor="middle">36</text><text x="173.4" y="319.7" text-anchor="middle">48</text><text x="197.1" y="319.7" text-anchor="middle">60</text><text x="220.8" y="319.7" text-anchor="middle">72</text><text x="244.5" y="319.7" text-anchor="middle">84</text></g><text x="76.8" y="148.3" font-size="7.8" fill="#6a6a6a" textLength="144.4" lengthAdjust="spacingAndGlyphs">CCSD - Amplitude Ratio - 011-E1B-S-U-900</text><text x="102.2" y="153.7" font-size="7.3" fill="#999">Ref</text><text x="161.2" y="331.3" font-size="8" font-weight="bold" fill="#3c3c3c" text-anchor="middle">Peak</text><text transform="translate(57.6,262.5) rotate(-90)" font-size="7.8" font-weight="bold" fill="#333" textLength="60.0" lengthAdjust="spacingAndGlyphs">Amplitude Ratio</text><line x1="79.0" y1="227.4" x2="251.2" y2="227.4" stroke="#9a9bf7" stroke-width="1.1"/><g fill="#3a70e2"><circle cx="80.3" cy="292.4" r="1.75"/><circle cx="82.4" cy="292.4" r="1.75"/><circle cx="84.2" cy="295.8" r="1.75"/><circle cx="86.4" cy="281.1" r="1.75"/><circle cx="90.3" cy="267.8" r="1.75"/><circle cx="92.3" cy="291.9" r="1.75"/><circle cx="94.2" cy="283.3" r="1.75"/><circle cx="96.0" cy="268.9" r="1.75"/><circle cx="98.0" cy="288.1" r="1.75"/><circle cx="100.2" cy="277.4" r="1.75"/><circle cx="102.1" cy="290.2" r="1.75"/><circle cx="103.9" cy="285.5" r="1.75"/><circle cx="106.0" cy="290.6" r="1.75"/><circle cx="108.0" cy="275.0" r="1.75"/><circle cx="110.0" cy="266.5" r="1.75"/><circle cx="111.9" cy="280.1" r="1.75"/><circle cx="113.8" cy="168.3" r="1.75"/><circle cx="115.9" cy="289.9" r="1.75"/><circle cx="118.1" cy="244.3" r="1.75"/><circle cx="120.1" cy="285.8" r="1.75"/><circle cx="121.9" cy="286.6" r="1.75"/><circle cx="123.8" cy="293.5" r="1.75"/><circle cx="125.8" cy="284.7" r="1.75"/><circle cx="127.7" cy="277.5" r="1.75"/><circle cx="129.9" cy="284.0" r="1.75"/><circle cx="131.7" cy="257.0" r="1.75"/><circle cx="133.6" cy="256.2" r="1.75"/><circle cx="135.6" cy="288.6" r="1.75"/><circle cx="137.8" cy="246.3" r="1.75"/><circle cx="139.6" cy="288.5" r="1.75"/><circle cx="141.4" cy="287.3" r="1.75"/><circle cx="145.6" cy="289.4" r="1.75"/><circle cx="147.4" cy="271.9" r="1.75"/><circle cx="149.4" cy="282.6" r="1.75"/><circle cx="151.3" cy="263.3" r="1.75"/><circle cx="153.3" cy="260.0" r="1.75"/><circle cx="155.3" cy="262.6" r="1.75"/><circle cx="157.2" cy="275.1" r="1.75"/><circle cx="159.2" cy="276.0" r="1.75"/><circle cx="161.2" cy="231.5" r="1.75"/><circle cx="163.2" cy="289.5" r="1.75"/><circle cx="165.1" cy="287.8" r="1.75"/><circle cx="167.2" cy="268.4" r="1.75"/><circle cx="169.2" cy="278.7" r="1.75"/><circle cx="171.0" cy="285.4" r="1.75"/><circle cx="173.1" cy="273.2" r="1.75"/><circle cx="175.1" cy="256.7" r="1.75"/><circle cx="177.1" cy="251.5" r="1.75"/><circle cx="179.0" cy="280.8" r="1.75"/><circle cx="180.8" cy="267.0" r="1.75"/><circle cx="182.8" cy="284.1" r="1.75"/><circle cx="184.8" cy="285.0" r="1.75"/><circle cx="186.9" cy="239.6" r="1.75"/><circle cx="188.9" cy="291.8" r="1.75"/><circle cx="190.7" cy="227.6" r="1.75"/><circle cx="192.9" cy="287.9" r="1.75"/><circle cx="195.0" cy="239.6" r="1.75"/><circle cx="197.0" cy="242.1" r="1.75"/><circle cx="198.6" cy="255.9" r="1.75"/><circle cx="200.7" cy="274.3" r="1.75"/><circle cx="202.7" cy="214.4" r="1.75"/><circle cx="204.7" cy="281.1" r="1.75"/><circle cx="206.7" cy="229.8" r="1.75"/><circle cx="208.6" cy="292.9" r="1.75"/><circle cx="210.6" cy="274.3" r="1.75"/><circle cx="212.6" cy="285.9" r="1.75"/><circle cx="214.6" cy="259.2" r="1.75"/><circle cx="216.5" cy="263.3" r="1.75"/><circle cx="218.5" cy="262.4" r="1.75"/><circle cx="220.5" cy="265.5" r="1.75"/><circle cx="222.6" cy="269.2" r="1.75"/><circle cx="224.4" cy="261.3" r="1.75"/><circle cx="226.4" cy="281.3" r="1.75"/><circle cx="228.4" cy="222.1" r="1.75"/><circle cx="230.3" cy="288.3" r="1.75"/><circle cx="232.3" cy="269.7" r="1.75"/><circle cx="234.3" cy="262.6" r="1.75"/><circle cx="236.4" cy="288.1" r="1.75"/><circle cx="238.4" cy="292.5" r="1.75"/><circle cx="240.2" cy="261.3" r="1.75"/></g>
</g>
</svg>
</body></html>
